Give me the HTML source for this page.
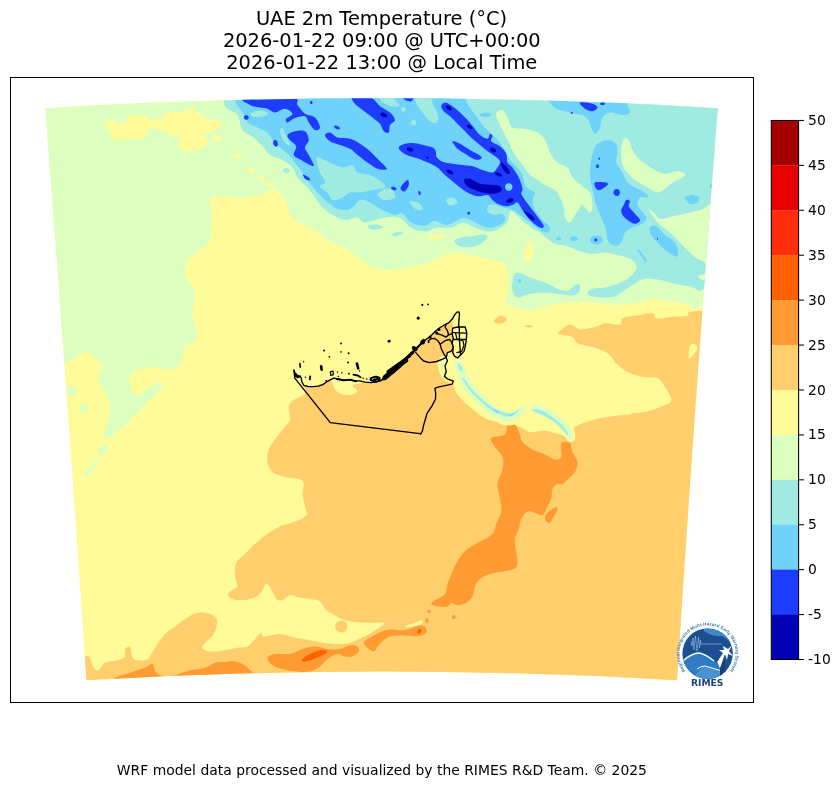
<!DOCTYPE html>
<html lang="en">
<head>
<meta charset="utf-8">
<title>UAE 2m Temperature</title>
<style>
html,body{margin:0;padding:0;background:#fff;}
body{width:840px;height:788px;overflow:hidden;font-family:"DejaVu Sans","Liberation Sans",sans-serif;}
svg{display:block;}
svg text{font-family:"DejaVu Sans","Liberation Sans",sans-serif;fill:#000;}
</style>
</head>
<body>
<svg width="840" height="788" viewBox="0 0 840 788">
<rect width="840" height="788" fill="#fff"/>
<defs>
<clipPath id="mapclip"><path d="M45.3 108.2 Q381.5 88.2 717.8 108.2 Q695.3 394.2 677.0 680.3 Q381.5 662.7 86.5 680.3 Q67.3 394.2 45.3 108.2Z"/></clipPath>
</defs>
<g text-anchor="middle" font-size="19.44" style="filter:grayscale(1)">
<text x="381.5" y="24.7">UAE 2m Temperature (°C)</text>
<text x="381.8" y="47.0">2026-01-22 09:00 @ UTC+00:00</text>
<text x="381.8" y="68.8">2026-01-22 13:00 @ Local Time</text>
</g>
<g clip-path="url(#mapclip)">
<rect x="40" y="90" width="690" height="600" fill="#fffb98"/>
<path fill="#dcffc0" d="M30.0 80.0 C148.3 60.0 625.0 60.0 740.0 80.0 C855.0 100.0 726.2 163.0 720.0 200.0 C713.8 237.0 708.8 284.8 703.0 302.0 C697.2 319.2 691.3 303.5 685.0 303.2 C678.7 303.0 671.2 301.4 665.0 300.8 C658.8 300.1 652.5 299.1 647.5 299.5 C642.5 299.9 641.2 302.4 635.0 303.2 C628.8 304.1 618.3 304.7 610.0 304.5 C601.7 304.3 593.3 302.2 585.0 302.0 C576.7 301.8 566.7 302.6 560.0 303.2 C553.3 303.9 549.6 304.5 545.0 305.8 C540.4 307.0 536.7 310.3 532.5 310.8 C528.3 311.2 523.8 309.1 520.0 308.2 C516.2 307.4 512.5 306.8 510.0 305.8 C507.5 304.7 505.4 303.9 505.0 302.0 C504.6 300.1 506.8 297.0 507.5 294.5 C508.2 292.0 509.0 290.2 509.0 287.0 C509.0 283.8 508.2 278.7 507.5 275.0 C506.8 271.3 507.1 267.5 505.0 265.0 C502.9 262.5 498.8 261.2 495.0 260.0 C491.2 258.8 486.7 258.3 482.5 257.5 C478.3 256.7 474.2 255.8 470.0 255.0 C465.8 254.2 461.7 252.5 457.5 252.5 C453.3 252.5 449.2 253.8 445.0 255.0 C440.8 256.2 436.7 258.3 432.5 260.0 C428.3 261.7 427.9 263.3 420.0 265.0 C412.1 266.7 394.2 270.4 385.0 270.0 C375.8 269.6 371.2 265.8 365.0 262.5 C358.8 259.2 353.8 253.8 347.5 250.0 C341.2 246.2 332.9 243.3 327.5 240.0 C322.1 236.7 320.8 233.8 315.0 230.0 C309.2 226.2 297.5 222.5 292.5 217.5 C287.5 212.5 288.1 204.8 285.0 200.0 C281.9 195.2 277.9 189.6 273.8 188.8 C269.6 187.9 265.2 193.5 260.0 195.0 C254.8 196.5 249.2 197.3 242.5 197.5 C235.8 197.7 225.4 195.8 220.0 196.2 C214.6 196.7 211.3 196.9 210.0 200.0 C208.7 203.1 212.0 208.3 212.0 215.0 C212.0 221.7 212.0 234.2 210.0 240.0 C208.0 245.8 203.8 246.7 200.0 250.0 C196.2 253.3 189.5 255.8 187.0 260.0 C184.5 264.2 184.1 270.5 185.0 275.0 C185.9 279.5 190.8 283.3 192.5 287.0 C194.2 290.7 195.0 292.0 195.0 297.0 C195.0 302.0 192.1 310.3 192.5 317.0 C192.9 323.7 198.8 332.0 197.5 337.0 C196.2 342.0 187.5 343.2 185.0 347.0 C182.5 350.8 184.2 356.0 182.5 359.5 C180.8 363.0 178.3 366.6 175.0 368.2 C171.7 369.9 166.7 369.7 162.5 369.5 C158.3 369.3 153.8 367.0 150.0 367.0 C146.2 367.0 143.3 368.2 140.0 369.5 C136.7 370.8 131.2 370.8 130.0 374.5 C128.8 378.2 130.8 388.7 132.5 392.0 C134.2 395.3 136.7 395.8 140.0 394.5 C143.3 393.2 148.8 386.4 152.5 384.5 C156.2 382.6 162.1 381.6 162.5 383.2 C162.9 384.9 158.8 390.1 155.0 394.5 C151.2 398.9 145.0 404.5 140.0 409.5 C135.0 414.5 130.0 419.9 125.0 424.5 C120.0 429.1 113.5 434.9 110.0 437.0 C106.5 439.1 104.6 438.7 103.8 437.0 C102.9 435.3 104.0 431.2 105.0 427.0 C106.0 422.8 109.6 417.0 110.0 412.0 C110.4 407.0 109.2 401.6 107.5 397.0 C105.8 392.4 101.5 388.5 100.0 384.5 C98.5 380.5 98.1 376.2 98.8 373.2 C99.4 370.3 104.0 369.3 103.8 367.0 C103.5 364.7 100.4 361.9 97.5 359.5 C94.6 357.1 90.0 352.7 86.2 352.5 C82.5 352.3 78.5 356.7 75.0 358.2 C71.5 359.8 71.3 361.4 65.5 362.0 C59.7 362.6 45.9 389.0 40.0 362.0 C34.1 335.0 31.7 247.0 30.0 200.0 C28.3 153.0 -88.3 100.0 30.0 80.0Z"/>
<path fill="#dcffc0" d="M67.5 385.8 C68.5 384.4 73.5 385.5 75.0 387.0 C76.5 388.5 77.3 393.2 76.2 394.5 C75.2 395.8 70.2 396.5 68.8 395.0 C67.3 393.5 66.5 387.1 67.5 385.8Z"/>
<path fill="#dcffc0" d="M80.0 404.5 C81.0 403.5 85.2 404.5 86.2 405.8 C87.3 407.0 87.2 411.0 86.2 412.0 C85.3 413.0 81.5 413.2 80.5 412.0 C79.5 410.8 79.0 405.5 80.0 404.5Z"/>
<path fill="#dcffc0" d="M98.8 448.2 C100.1 446.8 105.0 444.1 106.2 444.5 C107.5 444.9 107.1 449.0 106.2 450.8 C105.4 452.5 102.6 454.6 101.2 455.0 C99.9 455.4 98.4 454.4 98.0 453.2 C97.6 452.1 97.4 449.7 98.8 448.2Z"/>
<path fill="#dcffc0" d="M84.5 473.2 C85.1 471.4 87.9 467.8 90.0 465.8 C92.1 463.7 95.7 461.2 97.0 460.8 C98.3 460.3 99.0 461.6 98.0 463.2 C97.0 464.9 93.2 468.5 91.2 470.8 C89.3 473.0 87.4 476.6 86.2 477.0 C85.1 477.4 83.9 475.1 84.5 473.2Z"/>
<path fill="#fffb98" d="M104.2 126.7 C104.3 124.4 108.8 118.9 110.8 118.3 C112.9 117.8 114.0 122.8 116.7 123.3 C119.3 123.9 124.4 122.9 126.7 121.7 C128.9 120.4 126.9 116.8 130.0 115.8 C133.1 114.9 141.7 115.1 145.0 115.8 C148.3 116.5 147.2 119.6 150.0 120.0 C152.8 120.4 158.9 119.6 161.7 118.3 C164.4 117.1 163.1 113.6 166.7 112.5 C170.3 111.4 179.2 112.4 183.3 111.7 C187.5 111.0 189.4 108.2 191.7 108.3 C193.9 108.5 194.7 111.2 196.7 112.5 C198.6 113.8 200.8 114.3 203.3 115.8 C205.8 117.4 208.9 120.8 211.7 121.7 C214.4 122.5 218.5 120.0 220.0 120.8 C221.5 121.7 222.2 125.1 220.8 126.7 C219.4 128.2 213.5 128.9 211.7 130.0 C209.9 131.1 211.4 132.5 210.0 133.3 C208.6 134.2 203.6 133.6 203.3 135.0 C203.1 136.4 208.6 139.4 208.3 141.7 C208.1 143.9 205.0 146.7 201.7 148.3 C198.3 150.0 191.9 151.7 188.3 151.7 C184.7 151.7 181.7 150.0 180.0 148.3 C178.3 146.7 178.1 143.5 178.3 141.7 C178.6 139.9 182.5 138.5 181.7 137.5 C180.8 136.5 175.8 136.7 173.3 135.8 C170.8 135.0 169.2 133.5 166.7 132.5 C164.2 131.5 161.1 130.7 158.3 130.0 C155.6 129.3 151.9 128.1 150.0 128.3 C148.1 128.6 147.5 130.0 146.7 131.7 C145.8 133.3 147.2 137.1 145.0 138.3 C142.8 139.6 138.1 138.9 133.3 139.2 C128.6 139.4 120.4 140.4 116.7 140.0 C112.9 139.6 111.9 138.1 110.8 136.7 C109.7 135.3 111.1 133.3 110.0 131.7 C108.9 130.0 104.0 128.9 104.2 126.7Z"/>
<path fill="#fffb98" d="M220.0 137.5 C220.0 138.4 219.6 139.5 219.0 140.1 C218.5 140.7 217.5 141.2 216.7 141.2 C215.9 141.2 214.9 140.7 214.3 140.1 C213.8 139.5 213.3 138.4 213.3 137.5 C213.3 136.6 213.8 135.5 214.3 134.9 C214.9 134.3 215.9 133.8 216.7 133.8 C217.5 133.8 218.5 134.3 219.0 134.9 C219.6 135.5 220.0 136.6 220.0 137.5Z"/>
<path fill="#fffb98" d="M219.5 122.5 C219.5 123.3 218.9 124.4 218.2 125.0 C217.4 125.6 216.1 126.0 215.0 126.0 C213.9 126.0 212.6 125.6 211.8 125.0 C211.1 124.4 210.5 123.3 210.5 122.5 C210.5 121.7 211.1 120.6 211.8 120.0 C212.6 119.4 213.9 119.0 215.0 119.0 C216.1 119.0 217.4 119.4 218.2 120.0 C218.9 120.6 219.5 121.7 219.5 122.5Z"/>
<path fill="#fffb98" d="M220.5 137.5 C220.5 138.1 220.1 138.9 219.6 139.3 C219.1 139.7 218.2 140.0 217.5 140.0 C216.8 140.0 215.9 139.7 215.4 139.3 C214.9 138.9 214.5 138.1 214.5 137.5 C214.5 136.9 214.9 136.1 215.4 135.7 C215.9 135.3 216.8 135.0 217.5 135.0 C218.2 135.0 219.1 135.3 219.6 135.7 C220.1 136.1 220.5 136.9 220.5 137.5Z"/>
<path fill="#fffb98" d="M241.4 157.8 C241.1 158.3 240.2 158.6 239.4 158.6 C238.5 158.6 237.2 158.2 236.2 157.7 C235.3 157.1 234.3 156.2 233.9 155.4 C233.4 154.7 233.3 153.8 233.6 153.2 C233.9 152.7 234.8 152.4 235.6 152.4 C236.5 152.4 237.8 152.8 238.8 153.3 C239.7 153.9 240.7 154.8 241.1 155.6 C241.6 156.3 241.7 157.2 241.4 157.8Z"/>
<path fill="#fffb98" d="M255.1 172.8 C254.9 173.3 254.0 173.6 253.1 173.6 C252.3 173.6 250.9 173.2 250.0 172.7 C249.1 172.1 248.1 171.2 247.6 170.4 C247.2 169.7 247.1 168.8 247.4 168.2 C247.6 167.7 248.5 167.4 249.4 167.4 C250.2 167.4 251.6 167.8 252.5 168.3 C253.4 168.9 254.4 169.8 254.9 170.6 C255.3 171.3 255.4 172.2 255.1 172.8Z"/>
<path fill="#fffb98" d="M264.3 179.2 C264.0 179.7 263.3 180.1 262.6 180.1 C261.9 180.1 260.8 179.9 260.1 179.4 C259.4 179.0 258.6 178.3 258.3 177.6 C258.0 177.0 258.0 176.2 258.2 175.8 C258.5 175.3 259.2 174.9 259.9 174.9 C260.6 174.9 261.7 175.1 262.4 175.6 C263.1 176.0 263.9 176.7 264.2 177.4 C264.5 178.0 264.5 178.8 264.3 179.2Z"/>
<path fill="#fffb98" d="M273.0 186.2 C272.7 186.8 272.0 187.2 271.3 187.3 C270.5 187.3 269.5 187.1 268.8 186.7 C268.0 186.3 267.3 185.4 267.0 184.8 C266.7 184.1 266.7 183.3 267.0 182.8 C267.3 182.2 268.0 181.8 268.7 181.7 C269.5 181.7 270.5 181.9 271.2 182.3 C272.0 182.7 272.7 183.6 273.0 184.2 C273.3 184.9 273.3 185.7 273.0 186.2Z"/>
<path fill="#fffb98" d="M533.2 252.0 C532.8 254.5 531.6 257.5 530.6 259.1 C529.6 260.7 528.0 261.8 526.9 261.6 C525.9 261.4 524.8 259.9 524.3 258.0 C523.9 256.2 523.9 252.9 524.3 250.5 C524.7 248.0 525.9 245.0 526.9 243.4 C527.9 241.8 529.5 240.7 530.6 240.9 C531.6 241.1 532.7 242.6 533.2 244.5 C533.6 246.3 533.6 249.6 533.2 252.0Z"/>
<path fill="#fffb98" d="M445.7 236.2 C445.8 236.6 444.6 237.4 443.1 237.8 C441.5 238.3 438.7 238.8 436.4 239.0 C434.2 239.2 431.3 239.2 429.7 239.0 C428.1 238.8 426.8 238.3 426.8 237.8 C426.7 237.4 427.9 236.6 429.4 236.2 C431.0 235.7 433.8 235.2 436.1 235.0 C438.3 234.8 441.2 234.8 442.8 235.0 C444.4 235.2 445.7 235.7 445.7 236.2Z"/>
<path fill="#a0ebe1" d="M223.8 101.0 C223.2 96.2 138.0 83.5 224.0 80.0 C310.0 76.5 657.3 60.0 740.0 80.0 C822.7 100.0 725.7 166.0 720.0 200.0 C714.3 234.0 711.0 269.4 706.0 283.8 C701.0 298.1 695.2 286.2 690.0 286.2 C684.8 286.2 680.0 284.8 675.0 283.8 C670.0 282.7 665.0 280.8 660.0 280.0 C655.0 279.2 649.2 278.1 645.0 278.8 C640.8 279.4 638.3 281.9 635.0 283.8 C631.7 285.6 628.3 287.9 625.0 290.0 C621.7 292.1 619.2 295.0 615.0 296.2 C610.8 297.5 604.2 297.6 600.0 297.5 C595.8 297.4 592.1 296.3 590.0 295.5 C587.9 294.7 587.1 293.6 587.5 292.5 C587.9 291.4 589.6 289.6 592.5 288.8 C595.4 287.9 600.8 288.3 605.0 287.5 C609.2 286.7 613.8 285.2 617.5 283.8 C621.2 282.3 624.6 280.8 627.5 278.8 C630.4 276.7 633.5 273.5 635.0 271.2 C636.5 269.0 637.1 267.1 636.2 265.0 C635.4 262.9 633.1 260.4 630.0 258.8 C626.9 257.1 621.7 256.0 617.5 255.0 C613.3 254.0 609.2 252.7 605.0 252.5 C600.8 252.3 596.7 254.0 592.5 253.8 C588.3 253.5 584.2 252.5 580.0 251.2 C575.8 250.0 571.7 247.5 567.5 246.2 C563.3 245.0 558.3 245.0 555.0 243.8 C551.7 242.5 550.0 240.6 547.5 238.8 C545.0 236.9 542.4 234.1 540.0 232.5 C537.6 230.9 535.7 230.8 533.0 229.0 C530.3 227.2 527.0 224.6 524.0 222.0 C521.0 219.4 517.2 215.3 515.0 213.5 C512.8 211.7 511.6 210.2 510.5 211.0 C509.4 211.8 509.7 215.6 508.6 218.0 C507.5 220.4 506.7 223.5 503.8 225.7 C500.9 227.9 495.4 230.8 491.4 231.4 C487.4 232.0 484.8 230.9 480.0 229.5 C475.2 228.1 467.7 223.2 462.9 222.9 C458.1 222.6 455.5 226.8 451.4 227.6 C447.2 228.4 442.4 227.0 438.0 227.6 C433.6 228.2 429.2 231.3 424.8 231.4 C420.4 231.5 415.5 230.2 411.4 228.0 C407.3 225.8 404.4 219.8 400.0 218.0 C395.6 216.2 390.8 216.8 385.0 217.5 C379.2 218.2 369.6 222.5 365.0 222.5 C360.4 222.5 360.8 217.9 357.5 217.5 C354.2 217.1 349.2 220.4 345.0 220.0 C340.8 219.6 336.2 217.1 332.5 215.0 C328.8 212.9 325.4 210.4 322.5 207.5 C319.6 204.6 317.5 200.8 315.0 197.5 C312.5 194.2 310.4 190.8 307.5 187.5 C304.6 184.2 300.0 180.8 297.5 177.5 C295.0 174.2 295.0 170.4 292.5 167.5 C290.0 164.6 286.2 162.1 282.5 160.0 C278.8 157.9 273.1 157.1 270.0 155.0 C266.9 152.9 266.5 150.4 263.8 147.5 C261.0 144.6 257.3 140.4 253.8 137.5 C250.2 134.6 245.2 133.8 242.5 130.0 C239.8 126.2 240.0 118.5 237.5 115.0 C235.0 111.5 229.8 111.1 227.5 108.8 C225.2 106.4 224.3 105.8 223.8 101.0Z"/>
<path fill="#a0ebe1" d="M367.5 226.2 C367.9 225.4 372.5 224.5 375.0 224.5 C377.5 224.5 381.5 225.5 382.5 226.2 C383.5 227.0 382.9 228.2 381.2 228.8 C379.6 229.3 374.8 229.9 372.5 229.5 C370.2 229.1 367.1 227.1 367.5 226.2Z"/>
<path fill="#a0ebe1" d="M392.0 234.5 C392.4 233.8 395.7 232.4 397.5 232.0 C399.3 231.6 402.4 231.6 403.0 232.0 C403.6 232.4 402.6 233.8 401.2 234.5 C399.9 235.2 396.5 236.5 395.0 236.5 C393.5 236.5 391.6 235.2 392.0 234.5Z"/>
<path fill="#a0ebe1" d="M289.8 170.5 C289.8 171.1 289.3 171.9 288.7 172.3 C288.1 172.7 287.1 173.0 286.2 173.0 C285.4 173.0 284.4 172.7 283.8 172.3 C283.2 171.9 282.8 171.1 282.8 170.5 C282.8 169.9 283.2 169.1 283.8 168.7 C284.4 168.3 285.4 168.0 286.2 168.0 C287.1 168.0 288.1 168.3 288.7 168.7 C289.3 169.1 289.8 169.9 289.8 170.5Z"/>
<path fill="#dcffc0" d="M496.2 113.8 C496.7 111.2 500.6 109.4 502.5 110.0 C504.4 110.6 505.8 114.6 507.5 117.5 C509.2 120.4 509.6 125.6 512.5 127.5 C515.4 129.4 520.8 127.9 525.0 128.8 C529.2 129.6 534.2 130.6 537.5 132.5 C540.8 134.4 542.9 136.7 545.0 140.0 C547.1 143.3 547.9 148.8 550.0 152.5 C552.1 156.2 554.6 160.0 557.5 162.5 C560.4 165.0 565.0 165.0 567.5 167.5 C570.0 170.0 570.0 174.4 572.5 177.5 C575.0 180.6 579.6 183.8 582.5 186.2 C585.4 188.8 588.3 189.4 590.0 192.5 C591.7 195.6 592.5 201.7 592.5 205.0 C592.5 208.3 591.7 212.5 590.0 212.5 C588.3 212.5 584.2 205.8 582.5 205.0 C580.8 204.2 581.2 205.8 580.0 207.5 C578.8 209.2 576.7 212.5 575.0 215.0 C573.3 217.5 571.7 222.1 570.0 222.5 C568.3 222.9 566.0 220.0 565.0 217.5 C564.0 215.0 564.6 210.8 563.8 207.5 C562.9 204.2 561.5 200.4 560.0 197.5 C558.5 194.6 557.5 192.1 555.0 190.0 C552.5 187.9 547.9 186.7 545.0 185.0 C542.1 183.3 540.0 181.7 537.5 180.0 C535.0 178.3 532.5 177.5 530.0 175.0 C527.5 172.5 525.0 168.3 522.5 165.0 C520.0 161.7 517.1 158.3 515.0 155.0 C512.9 151.7 511.7 148.3 510.0 145.0 C508.3 141.7 506.7 138.3 505.0 135.0 C503.3 131.7 501.5 128.5 500.0 125.0 C498.5 121.5 495.8 116.2 496.2 113.8Z"/>
<path fill="#dcffc0" d="M623.8 138.8 C625.0 137.1 627.3 138.1 628.8 140.0 C630.2 141.9 630.6 146.7 632.5 150.0 C634.4 153.3 636.2 156.7 640.0 160.0 C643.8 163.3 650.8 167.7 655.0 170.0 C659.2 172.3 661.2 173.5 665.0 173.8 C668.8 174.0 674.2 171.2 677.5 171.2 C680.8 171.2 684.2 172.7 685.0 173.8 C685.8 174.8 684.6 176.0 682.5 177.5 C680.4 179.0 675.4 180.6 672.5 182.5 C669.6 184.4 667.5 187.1 665.0 188.8 C662.5 190.4 660.4 192.7 657.5 192.5 C654.6 192.3 651.2 189.6 647.5 187.5 C643.8 185.4 638.3 182.5 635.0 180.0 C631.7 177.5 629.6 175.0 627.5 172.5 C625.4 170.0 623.5 168.8 622.5 165.0 C621.5 161.2 621.0 154.4 621.2 150.0 C621.5 145.6 622.5 140.4 623.8 138.8Z"/>
<path fill="#dcffc0" d="M720.0 205.0 C716.7 195.8 705.8 208.5 700.0 210.0 C694.2 211.5 689.6 212.7 685.0 213.8 C680.4 214.8 676.7 215.4 672.5 216.2 C668.3 217.1 663.1 219.4 660.0 218.8 C656.9 218.1 655.6 214.2 653.8 212.5 C651.9 210.8 648.8 207.9 648.8 208.8 C648.8 209.6 651.9 214.8 653.8 217.5 C655.6 220.2 657.3 222.5 660.0 225.0 C662.7 227.5 666.7 229.6 670.0 232.5 C673.3 235.4 676.7 239.2 680.0 242.5 C683.3 245.8 686.7 249.6 690.0 252.5 C693.3 255.4 695.0 257.9 700.0 260.0 C705.0 262.1 716.7 274.2 720.0 265.0 C723.3 255.8 723.3 214.2 720.0 205.0Z"/>
<path fill="#dcffc0" d="M698.0 277.0 C698.0 275.9 704.9 273.8 706.2 274.5 C707.6 275.2 707.6 280.8 706.2 281.2 C704.9 281.7 698.0 278.1 698.0 277.0Z"/>
<path fill="#a0ebe1" d="M513.8 275.0 C515.0 272.2 517.3 272.6 520.0 273.0 C522.7 273.4 525.8 275.9 530.0 277.5 C534.2 279.1 540.4 280.6 545.0 282.5 C549.6 284.4 553.8 287.3 557.5 288.8 C561.2 290.2 564.6 291.9 567.5 291.2 C570.4 290.6 572.9 286.0 575.0 285.0 C577.1 284.0 579.4 284.2 580.0 285.5 C580.6 286.8 580.2 290.8 578.8 292.5 C577.3 294.2 574.8 295.3 571.2 295.5 C567.7 295.7 562.3 294.2 557.5 293.8 C552.7 293.2 547.5 292.4 542.5 292.5 C537.5 292.6 531.7 293.7 527.5 294.5 C523.3 295.3 520.0 298.2 517.5 297.5 C515.0 296.8 513.1 293.8 512.5 290.0 C511.9 286.2 512.5 277.8 513.8 275.0Z"/>
<path fill="#6ed2fa" d="M521.0 280.8 C521.0 281.2 520.8 281.8 520.6 282.2 C520.3 282.5 519.9 282.8 519.5 282.8 C519.1 282.8 518.7 282.5 518.4 282.2 C518.2 281.8 518.0 281.2 518.0 280.8 C518.0 280.3 518.2 279.7 518.4 279.3 C518.7 279.0 519.1 278.8 519.5 278.8 C519.9 278.8 520.3 279.0 520.6 279.3 C520.8 279.7 521.0 280.3 521.0 280.8Z"/>
<path fill="#a0ebe1" d="M454.3 241.0 C454.6 239.4 459.9 237.8 462.9 237.0 C465.9 236.2 468.9 236.6 472.4 236.2 C475.9 235.8 481.3 234.2 483.8 234.3 C486.3 234.4 487.9 235.6 487.6 237.0 C487.3 238.4 484.4 241.3 481.9 242.9 C479.4 244.5 475.9 246.1 472.4 246.7 C468.9 247.3 464.0 247.6 461.0 246.7 C458.0 245.8 454.0 242.6 454.3 241.0Z"/>
<path fill="#6ed2fa" d="M235.0 80.0 C274.2 76.7 431.5 76.9 470.0 80.0 C508.5 83.1 466.2 94.2 466.2 98.8 C466.2 103.3 468.1 104.4 470.0 107.5 C471.9 110.6 475.4 114.6 477.5 117.5 C479.6 120.4 480.4 122.5 482.5 125.0 C484.6 127.5 487.5 130.0 490.0 132.5 C492.5 135.0 495.0 137.1 497.5 140.0 C500.0 142.9 502.9 146.7 505.0 150.0 C507.1 153.3 507.9 157.1 510.0 160.0 C512.1 162.9 515.4 165.0 517.5 167.5 C519.6 170.0 521.2 172.1 522.5 175.0 C523.8 177.9 523.8 182.5 525.0 185.0 C526.2 187.5 528.3 188.8 530.0 190.0 C531.7 191.2 534.6 190.8 535.0 192.5 C535.4 194.2 532.5 197.1 532.5 200.0 C532.5 202.9 533.3 206.7 535.0 210.0 C536.7 213.3 540.0 217.1 542.5 220.0 C545.0 222.9 549.2 225.4 550.0 227.5 C550.8 229.6 549.2 232.1 547.5 232.5 C545.8 232.9 542.9 231.7 540.0 230.0 C537.1 228.3 533.3 225.0 530.0 222.5 C526.7 220.0 522.9 217.1 520.0 215.0 C517.1 212.9 515.4 211.2 512.5 210.0 C509.6 208.8 505.4 208.4 502.5 207.5 C499.6 206.6 497.7 205.1 495.2 204.8 C492.7 204.5 487.6 204.6 487.6 205.7 C487.6 206.8 492.3 209.7 495.2 211.4 C498.1 213.2 503.5 214.3 504.8 216.2 C506.1 218.1 505.1 221.0 502.9 222.9 C500.7 224.8 494.9 227.1 491.4 227.6 C487.9 228.1 485.1 226.8 481.9 225.7 C478.7 224.6 475.6 222.3 472.4 221.0 C469.2 219.7 467.0 217.5 462.9 218.1 C458.8 218.7 452.4 224.3 447.6 224.8 C442.8 225.3 438.1 220.8 434.3 221.0 C430.5 221.2 428.6 225.4 424.8 225.7 C421.0 226.0 415.2 224.9 411.4 222.8 C407.6 220.7 404.7 214.3 402.0 213.0 C399.3 211.7 398.2 215.5 395.0 215.0 C391.8 214.5 386.7 212.1 382.5 210.0 C378.3 207.9 373.8 204.2 370.0 202.5 C366.2 200.8 362.9 199.2 360.0 200.0 C357.1 200.8 355.0 205.8 352.5 207.5 C350.0 209.2 347.9 210.0 345.0 210.0 C342.1 210.0 338.3 209.2 335.0 207.5 C331.7 205.8 327.9 202.5 325.0 200.0 C322.1 197.5 320.0 195.2 317.5 192.5 C315.0 189.8 312.5 187.1 310.0 183.8 C307.5 180.4 305.0 176.0 302.5 172.5 C300.0 169.0 297.5 165.6 295.0 162.5 C292.5 159.4 290.0 156.2 287.5 153.8 C285.0 151.2 282.5 149.8 280.0 147.5 C277.5 145.2 274.6 142.5 272.5 140.0 C270.4 137.5 270.0 134.6 267.5 132.5 C265.0 130.4 260.8 129.2 257.5 127.5 C254.2 125.8 250.0 125.0 247.5 122.5 C245.0 120.0 244.6 116.2 242.5 112.5 C240.4 108.8 236.2 105.4 235.0 100.0 C233.8 94.6 195.8 83.3 235.0 80.0Z"/>
<path fill="#a0ebe1" d="M251.2 113.0 C252.4 112.1 256.1 110.7 258.8 110.5 C261.4 110.3 265.8 111.2 267.0 112.0 C268.2 112.8 267.8 114.7 266.2 115.5 C264.7 116.3 259.9 116.9 257.5 117.0 C255.1 117.1 253.0 116.7 252.0 116.0 C251.0 115.3 250.1 113.9 251.2 113.0Z"/>
<path fill="#a0ebe1" d="M317.5 157.5 C319.6 157.1 325.8 160.8 330.0 162.5 C334.2 164.2 338.8 167.1 342.5 167.5 C346.2 167.9 350.0 164.2 352.5 165.0 C355.0 165.8 354.6 170.8 357.5 172.5 C360.4 174.2 365.8 173.3 370.0 175.0 C374.2 176.7 380.0 180.4 382.5 182.5 C385.0 184.6 386.7 186.2 385.0 187.5 C383.3 188.8 376.7 189.2 372.5 190.0 C368.3 190.8 363.8 192.1 360.0 192.5 C356.2 192.9 352.9 191.7 350.0 192.5 C347.1 193.3 345.4 196.2 342.5 197.5 C339.6 198.8 335.0 200.8 332.5 200.0 C330.0 199.2 329.6 194.8 327.5 192.5 C325.4 190.2 320.4 187.9 320.0 186.2 C319.6 184.6 325.0 184.8 325.0 182.5 C325.0 180.2 321.2 175.4 320.0 172.5 C318.8 169.6 317.9 167.5 317.5 165.0 C317.1 162.5 315.4 157.9 317.5 157.5Z"/>
<path fill="#a0ebe1" d="M377.5 195.0 C377.5 193.1 382.5 189.6 385.0 188.8 C387.5 187.9 390.8 188.5 392.5 190.0 C394.2 191.5 396.2 195.8 395.0 197.5 C393.8 199.2 387.9 200.4 385.0 200.0 C382.1 199.6 377.5 196.9 377.5 195.0Z"/>
<path fill="#a0ebe1" d="M282.5 127.5 C283.3 127.9 283.8 131.0 285.0 133.8 C286.2 136.5 289.6 141.9 290.0 143.8 C290.4 145.6 288.8 145.8 287.5 145.0 C286.2 144.2 283.8 141.0 282.5 138.8 C281.2 136.5 280.0 133.1 280.0 131.2 C280.0 129.4 281.7 127.1 282.5 127.5Z"/>
<path fill="#a0ebe1" d="M410.0 201.2 C410.8 200.4 417.9 202.3 420.0 203.8 C422.1 205.2 423.3 209.2 422.5 210.0 C421.7 210.8 417.1 210.2 415.0 208.8 C412.9 207.3 409.2 202.1 410.0 201.2Z"/>
<path fill="#a0ebe1" d="M446.2 200.0 C446.7 198.7 450.6 197.1 452.5 197.5 C454.4 197.9 457.9 201.2 457.5 202.5 C457.1 203.8 451.9 205.9 450.0 205.5 C448.1 205.1 445.8 201.3 446.2 200.0Z"/>
<path fill="#a0ebe1" d="M487.5 207.5 C488.5 206.5 492.9 205.4 495.0 206.2 C497.1 207.1 500.0 211.0 500.0 212.5 C500.0 214.0 496.9 215.0 495.0 215.0 C493.1 215.0 490.0 213.8 488.8 212.5 C487.5 211.2 486.5 208.5 487.5 207.5Z"/>
<path fill="#a0ebe1" d="M415.8 97.5 C417.8 96.0 427.1 96.2 430.0 97.5 C432.9 98.8 432.1 102.4 433.3 105.0 C434.6 107.6 436.7 110.8 437.5 113.3 C438.3 115.8 438.8 118.3 438.3 120.0 C437.9 121.7 436.7 123.3 435.0 123.3 C433.3 123.3 430.3 121.7 428.3 120.0 C426.4 118.3 425.0 115.6 423.3 113.3 C421.7 111.1 419.6 109.3 418.3 106.7 C417.1 104.0 413.9 99.0 415.8 97.5Z"/>
<path fill="#a0ebe1" d="M380.8 97.5 C382.5 96.8 389.0 96.8 391.7 97.5 C394.3 98.2 395.4 100.3 396.7 101.7 C397.9 103.1 399.7 105.0 399.2 105.8 C398.6 106.7 395.4 106.9 393.3 106.7 C391.2 106.4 388.6 105.0 386.7 104.2 C384.7 103.3 382.6 102.8 381.7 101.7 C380.7 100.6 379.2 98.2 380.8 97.5Z"/>
<path fill="#a0ebe1" d="M405.7 109.2 C405.7 109.7 405.4 110.4 405.0 110.8 C404.6 111.2 403.9 111.5 403.3 111.5 C402.8 111.5 402.1 111.2 401.7 110.8 C401.3 110.4 401.0 109.7 401.0 109.2 C401.0 108.6 401.3 107.9 401.7 107.5 C402.1 107.1 402.8 106.8 403.3 106.8 C403.9 106.8 404.6 107.1 405.0 107.5 C405.4 107.9 405.7 108.6 405.7 109.2Z"/>
<path fill="#a0ebe1" d="M416.3 122.5 C416.3 123.2 416.0 124.1 415.6 124.6 C415.1 125.1 414.3 125.5 413.7 125.5 C413.0 125.5 412.2 125.1 411.8 124.6 C411.3 124.1 411.0 123.2 411.0 122.5 C411.0 121.8 411.3 120.9 411.8 120.4 C412.2 119.9 413.0 119.5 413.7 119.5 C414.3 119.5 415.1 119.9 415.6 120.4 C416.0 120.9 416.3 121.8 416.3 122.5Z"/>
<path fill="#6ed2fa" d="M550.0 95.0 C536.9 96.2 549.0 100.2 550.0 102.5 C551.0 104.8 553.8 107.3 556.2 108.8 C558.8 110.2 561.9 110.4 565.0 111.2 C568.1 112.1 572.1 113.1 575.0 113.8 C577.9 114.4 581.2 114.8 582.5 115.0 C583.8 115.2 581.5 114.2 582.5 115.0 C583.5 115.8 587.3 117.9 588.8 120.0 C590.2 122.1 590.2 125.2 591.2 127.5 C592.3 129.8 593.5 133.8 595.0 133.8 C596.5 133.8 598.8 130.2 600.0 127.5 C601.2 124.8 600.8 120.0 602.5 117.5 C604.2 115.0 606.7 112.9 610.0 112.5 C613.3 112.1 619.2 115.0 622.5 115.0 C625.8 115.0 629.2 114.2 630.0 112.5 C630.8 110.8 627.7 107.9 627.5 105.0 C627.3 102.1 641.7 96.7 628.8 95.0 C615.8 93.3 563.1 93.8 550.0 95.0Z"/>
<path fill="#6ed2fa" d="M597.5 143.8 C599.8 142.1 604.4 140.0 607.5 140.0 C610.6 140.0 614.6 141.7 616.2 143.8 C617.9 145.8 617.5 149.4 617.5 152.5 C617.5 155.6 615.4 159.2 616.2 162.5 C617.1 165.8 620.6 169.2 622.5 172.5 C624.4 175.8 625.0 179.8 627.5 182.5 C630.0 185.2 634.4 186.9 637.5 188.8 C640.6 190.6 644.6 192.3 646.2 193.8 C647.9 195.2 648.5 196.9 647.5 197.5 C646.5 198.1 641.7 196.2 640.0 197.5 C638.3 198.8 636.7 202.1 637.5 205.0 C638.3 207.9 643.5 212.5 645.0 215.0 C646.5 217.5 647.1 218.3 646.2 220.0 C645.4 221.7 642.3 223.8 640.0 225.0 C637.7 226.2 635.0 226.2 632.5 227.5 C630.0 228.8 626.7 230.4 625.0 232.5 C623.3 234.6 623.5 237.9 622.5 240.0 C621.5 242.1 620.4 244.2 618.8 245.0 C617.1 245.8 614.4 245.8 612.5 245.0 C610.6 244.2 608.5 242.5 607.5 240.0 C606.5 237.5 607.3 233.8 606.2 230.0 C605.2 226.2 602.9 221.7 601.2 217.5 C599.6 213.3 597.7 209.6 596.2 205.0 C594.8 200.4 593.5 195.0 592.5 190.0 C591.5 185.0 590.2 180.0 590.0 175.0 C589.8 170.0 590.6 164.2 591.2 160.0 C591.9 155.8 592.7 152.7 593.8 150.0 C594.8 147.3 595.2 145.4 597.5 143.8Z"/>
<path fill="#6ed2fa" d="M650.0 227.5 C650.8 226.0 653.8 225.0 656.2 226.2 C658.8 227.5 662.3 232.7 665.0 235.0 C667.7 237.3 670.4 237.9 672.5 240.0 C674.6 242.1 676.7 244.8 677.5 247.5 C678.3 250.2 678.3 255.0 677.5 256.2 C676.7 257.5 674.6 256.0 672.5 255.0 C670.4 254.0 667.5 252.1 665.0 250.0 C662.5 247.9 659.8 245.0 657.5 242.5 C655.2 240.0 652.5 237.5 651.2 235.0 C650.0 232.5 649.2 229.0 650.0 227.5Z"/>
<path fill="#6ed2fa" d="M685.0 197.5 C685.4 196.0 690.2 195.0 692.5 195.0 C694.8 195.0 697.9 196.2 698.8 197.5 C699.6 198.8 699.0 201.5 697.5 202.5 C696.0 203.5 692.1 204.6 690.0 203.8 C687.9 202.9 684.6 199.0 685.0 197.5Z"/>
<path fill="#6ed2fa" d="M602.8 240.0 C602.8 241.1 601.9 242.4 600.8 243.2 C599.8 243.9 597.8 244.5 596.2 244.5 C594.7 244.5 592.7 243.9 591.7 243.2 C590.6 242.4 589.8 241.1 589.8 240.0 C589.8 238.9 590.6 237.6 591.7 236.8 C592.7 236.1 594.7 235.5 596.2 235.5 C597.8 235.5 599.8 236.1 600.8 236.8 C601.9 237.6 602.8 238.9 602.8 240.0Z"/>
<path fill="#6ed2fa" d="M577.8 238.8 C577.8 239.3 577.2 240.1 576.6 240.5 C575.9 240.9 574.7 241.2 573.8 241.2 C572.8 241.2 571.6 240.9 570.9 240.5 C570.3 240.1 569.8 239.3 569.8 238.8 C569.8 238.2 570.3 237.4 570.9 237.0 C571.6 236.6 572.8 236.2 573.8 236.2 C574.7 236.2 575.9 236.6 576.6 237.0 C577.2 237.4 577.8 238.2 577.8 238.8Z"/>
<path fill="#6ed2fa" d="M561.5 238.8 C561.5 239.1 561.2 239.6 560.7 239.8 C560.2 240.1 559.4 240.2 558.8 240.2 C558.1 240.2 557.3 240.1 556.8 239.8 C556.3 239.6 556.0 239.1 556.0 238.8 C556.0 238.4 556.3 237.9 556.8 237.7 C557.3 237.4 558.1 237.2 558.8 237.2 C559.4 237.2 560.2 237.4 560.7 237.7 C561.2 237.9 561.5 238.4 561.5 238.8Z"/>
<path fill="#6ed2fa" d="M491.2 114.8 C491.2 115.3 490.5 116.0 489.6 116.3 C488.6 116.7 486.9 117.0 485.5 117.0 C484.1 117.0 482.4 116.7 481.4 116.3 C480.5 116.0 479.8 115.3 479.8 114.8 C479.8 114.2 480.5 113.5 481.4 113.2 C482.4 112.8 484.1 112.5 485.5 112.5 C486.9 112.5 488.6 112.8 489.6 113.2 C490.5 113.5 491.2 114.2 491.2 114.8Z"/>
<path fill="#6ed2fa" d="M637.0 250.0 L639.0 249.5 L647.0 260.5 L645.5 262.0Z"/>
<path fill="#6ed2fa" d="M711.8 186.2 C711.8 186.8 711.6 187.6 711.5 188.0 C711.3 188.4 711.0 188.8 710.8 188.8 C710.5 188.8 710.2 188.4 710.0 188.0 C709.9 187.6 709.8 186.8 709.8 186.2 C709.8 185.7 709.9 184.9 710.0 184.5 C710.2 184.1 710.5 183.8 710.8 183.8 C711.0 183.8 711.3 184.1 711.5 184.5 C711.6 184.9 711.8 185.7 711.8 186.2Z"/>
<path fill="#1e3cff" d="M243.8 97.5 C250.8 96.2 283.5 96.2 292.5 97.5 C301.5 98.8 295.4 102.3 297.5 105.0 C299.6 107.7 302.1 111.7 305.0 113.8 C307.9 115.8 312.5 115.2 315.0 117.5 C317.5 119.8 320.0 125.4 320.0 127.5 C320.0 129.6 316.9 130.8 315.0 130.0 C313.1 129.2 310.4 124.8 308.8 122.5 C307.1 120.2 307.3 117.0 305.0 116.2 C302.7 115.5 297.9 117.0 295.0 118.0 C292.1 119.0 289.0 122.4 287.5 122.5 C286.0 122.6 285.4 120.2 286.2 118.8 C287.1 117.3 292.7 115.4 292.5 113.8 C292.3 112.1 287.9 109.0 285.0 108.8 C282.1 108.5 277.9 112.5 275.0 112.5 C272.1 112.5 270.0 109.6 267.5 108.8 C265.0 107.9 262.9 108.1 260.0 107.5 C257.1 106.9 252.7 106.7 250.0 105.0 C247.3 103.3 236.7 98.8 243.8 97.5Z"/>
<path fill="#1e3cff" d="M287.5 135.0 C288.3 133.5 292.1 131.9 295.0 131.2 C297.9 130.6 302.7 129.8 305.0 131.2 C307.3 132.7 308.8 137.3 308.8 140.0 C308.8 142.7 305.0 145.0 305.0 147.5 C305.0 150.0 307.3 152.1 308.8 155.0 C310.2 157.9 313.5 163.3 313.8 165.0 C314.0 166.7 312.1 165.8 310.0 165.0 C307.9 164.2 304.0 161.7 301.2 160.0 C298.5 158.3 294.6 157.3 293.8 155.0 C292.9 152.7 296.9 148.8 296.2 146.2 C295.6 143.8 291.5 141.9 290.0 140.0 C288.5 138.1 286.7 136.5 287.5 135.0Z"/>
<path fill="#1e3cff" d="M277.7 142.7 C277.9 143.5 277.9 144.6 277.7 145.2 C277.5 145.9 276.9 146.5 276.4 146.6 C275.9 146.8 275.1 146.5 274.6 146.1 C274.1 145.6 273.5 144.6 273.3 143.8 C273.1 143.0 273.1 141.9 273.3 141.3 C273.5 140.6 274.1 140.0 274.6 139.9 C275.1 139.7 275.9 140.0 276.4 140.4 C276.9 140.9 277.5 141.9 277.7 142.7Z"/>
<path fill="#1e3cff" d="M248.4 118.8 C248.1 119.2 247.5 119.6 247.0 119.8 C246.4 119.9 245.6 119.7 245.1 119.4 C244.6 119.2 244.1 118.5 243.9 118.0 C243.8 117.5 243.8 116.7 244.1 116.2 C244.4 115.8 245.0 115.4 245.5 115.2 C246.1 115.1 246.9 115.3 247.4 115.6 C247.9 115.8 248.4 116.5 248.6 117.0 C248.7 117.5 248.7 118.3 248.4 118.8Z"/>
<path fill="#1e3cff" d="M325.0 135.0 C325.0 133.5 327.9 132.1 330.0 132.5 C332.1 132.9 334.2 136.5 337.5 137.5 C340.8 138.5 346.2 137.7 350.0 138.8 C353.8 139.8 356.7 141.7 360.0 143.8 C363.3 145.8 367.1 148.8 370.0 151.2 C372.9 153.8 375.0 156.2 377.5 158.8 C380.0 161.2 383.5 164.5 385.0 166.2 C386.5 168.0 387.5 169.1 386.2 169.5 C385.0 169.9 380.6 169.9 377.5 168.8 C374.4 167.6 370.8 164.8 367.5 162.5 C364.2 160.2 360.4 157.3 357.5 155.0 C354.6 152.7 352.9 150.4 350.0 148.8 C347.1 147.1 343.3 146.2 340.0 145.0 C336.7 143.8 332.5 142.9 330.0 141.2 C327.5 139.6 325.0 136.5 325.0 135.0Z"/>
<path fill="#1e3cff" d="M352.5 97.0 C355.0 95.9 365.4 95.5 370.0 97.0 C374.6 98.5 376.7 103.7 380.0 106.2 C383.3 108.8 387.5 110.2 390.0 112.5 C392.5 114.8 395.0 117.9 395.0 120.0 C395.0 122.1 391.0 122.9 390.0 125.0 C389.0 127.1 389.8 131.5 388.8 132.5 C387.7 133.5 385.2 132.7 383.8 131.2 C382.3 129.8 381.9 126.0 380.0 123.8 C378.1 121.5 375.4 119.8 372.5 117.5 C369.6 115.2 365.4 112.3 362.5 110.0 C359.6 107.7 356.7 105.9 355.0 103.8 C353.3 101.6 350.0 98.1 352.5 97.0Z"/>
<path fill="#0000b4" d="M387.0 116.2 C386.9 116.6 386.3 117.1 385.6 117.2 C384.9 117.3 383.8 117.2 383.1 116.9 C382.3 116.6 381.4 116.0 380.9 115.5 C380.5 115.0 380.3 114.2 380.5 113.8 C380.6 113.4 381.2 112.9 381.9 112.8 C382.6 112.7 383.7 112.8 384.4 113.1 C385.2 113.4 386.1 114.0 386.6 114.5 C387.0 115.0 387.2 115.8 387.0 116.2Z"/>
<path fill="#1e3cff" d="M398.8 147.5 C399.2 146.0 402.3 144.5 405.0 143.8 C407.7 143.0 411.7 143.0 415.0 143.2 C418.3 143.5 421.7 144.5 425.0 145.5 C428.3 146.5 433.3 146.7 435.0 149.5 C436.7 152.3 436.7 160.8 435.0 162.5 C433.3 164.2 429.2 161.0 425.0 160.0 C420.8 159.0 413.8 157.5 410.0 156.2 C406.2 155.0 404.4 154.0 402.5 152.5 C400.6 151.0 398.3 149.0 398.8 147.5Z"/>
<path fill="#1e3cff" d="M339.9 128.9 C339.8 129.2 339.2 129.4 338.6 129.4 C338.0 129.4 337.1 129.2 336.4 128.9 C335.7 128.5 334.9 127.9 334.5 127.5 C334.1 127.0 333.9 126.4 334.1 126.1 C334.2 125.8 334.8 125.6 335.4 125.6 C336.0 125.6 336.9 125.8 337.6 126.1 C338.3 126.5 339.1 127.1 339.5 127.5 C339.9 128.0 340.1 128.6 339.9 128.9Z"/>
<path fill="#1e3cff" d="M401.2 186.2 C402.3 184.6 406.2 180.2 407.5 180.0 C408.8 179.8 409.2 183.1 408.8 185.0 C408.3 186.9 406.2 190.4 405.0 191.2 C403.8 192.1 401.9 190.8 401.2 190.0 C400.6 189.2 400.2 187.9 401.2 186.2Z"/>
<path fill="#1e3cff" d="M396.3 189.4 C396.2 189.8 395.7 190.2 395.2 190.3 C394.6 190.4 393.8 190.4 393.2 190.1 C392.5 189.9 391.8 189.4 391.5 189.0 C391.2 188.6 391.0 187.9 391.2 187.6 C391.3 187.2 391.8 186.8 392.3 186.7 C392.9 186.6 393.7 186.6 394.3 186.9 C395.0 187.1 395.7 187.6 396.0 188.0 C396.3 188.4 396.5 189.1 396.3 189.4Z"/>
<path fill="#1e3cff" d="M303.0 174.5 C303.6 174.3 307.7 176.5 308.8 177.5 C309.8 178.5 310.1 180.3 309.5 180.5 C308.9 180.7 306.1 179.8 305.0 178.8 C303.9 177.8 302.4 174.7 303.0 174.5Z"/>
<path fill="#1e3cff" d="M402.5 97.0 C403.6 96.4 411.5 96.3 413.0 97.0 C414.5 97.7 412.4 100.7 411.2 101.2 C410.1 101.8 407.7 101.2 406.2 100.5 C404.8 99.8 401.4 97.6 402.5 97.0Z"/>
<path fill="#1e3cff" d="M312.5 102.5 C312.5 102.9 312.3 103.4 312.1 103.7 C311.9 104.0 311.5 104.2 311.2 104.2 C311.0 104.2 310.6 104.0 310.4 103.7 C310.2 103.4 310.0 102.9 310.0 102.5 C310.0 102.1 310.2 101.6 310.4 101.3 C310.6 101.0 311.0 100.8 311.2 100.8 C311.5 100.8 311.9 101.0 312.1 101.3 C312.3 101.6 312.5 102.1 312.5 102.5Z"/>
<path fill="#1e3cff" d="M441.2 106.2 C441.5 104.8 443.1 102.5 445.0 102.5 C446.9 102.5 450.0 104.6 452.5 106.2 C455.0 107.9 457.5 110.2 460.0 112.5 C462.5 114.8 465.2 117.5 467.5 120.0 C469.8 122.5 471.7 125.0 473.8 127.5 C475.8 130.0 477.7 133.1 480.0 135.0 C482.3 136.9 485.8 139.0 487.5 138.8 C489.2 138.5 489.2 134.2 490.0 133.8 C490.8 133.3 492.3 135.0 492.5 136.2 C492.7 137.5 490.0 139.6 491.2 141.2 C492.5 142.9 497.5 144.2 500.0 146.2 C502.5 148.3 505.0 151.0 506.2 153.8 C507.5 156.5 506.5 160.2 507.5 162.5 C508.5 164.8 510.6 165.0 512.5 167.5 C514.4 170.0 517.1 174.0 518.8 177.5 C520.4 181.0 522.1 186.0 522.5 188.8 C522.9 191.5 520.8 191.9 521.2 193.8 C521.7 195.6 523.1 197.3 525.0 200.0 C526.9 202.7 530.0 206.7 532.5 210.0 C535.0 213.3 538.1 217.3 540.0 220.0 C541.9 222.7 543.8 225.0 543.8 226.2 C543.8 227.5 542.3 228.5 540.0 227.5 C537.7 226.5 532.9 222.9 530.0 220.0 C527.1 217.1 524.6 212.9 522.5 210.0 C520.4 207.1 519.2 203.3 517.5 202.5 C515.8 201.7 514.6 204.4 512.5 205.0 C510.4 205.6 507.5 206.5 505.0 206.2 C502.5 206.0 499.6 204.8 497.5 203.8 C495.4 202.7 494.2 201.5 492.5 200.0 C490.8 198.5 490.0 195.6 487.5 195.0 C485.0 194.4 480.8 196.7 477.5 196.2 C474.2 195.8 470.4 194.0 467.5 192.5 C464.6 191.0 462.5 189.4 460.0 187.5 C457.5 185.6 455.0 183.3 452.5 181.2 C450.0 179.2 447.4 177.2 445.0 175.0 C442.6 172.8 440.5 170.0 438.2 168.2 C436.0 166.5 434.2 165.5 431.8 164.2 C429.2 163.0 426.0 162.0 423.2 160.8 C420.5 159.5 417.6 158.0 415.0 157.0 C412.4 156.0 408.8 156.6 407.5 154.5 C406.2 152.4 406.2 146.1 407.5 144.5 C408.8 142.9 412.1 144.4 415.0 145.0 C417.9 145.6 422.2 147.1 425.0 148.2 C427.8 149.4 429.8 150.2 431.8 151.8 C433.7 153.3 435.0 155.8 436.8 157.5 C438.5 159.2 439.9 160.7 442.5 161.8 C445.1 162.8 449.2 163.2 452.5 163.8 C455.8 164.3 459.2 164.6 462.5 165.0 C465.8 165.4 469.2 165.4 472.5 166.2 C475.8 167.1 479.2 169.0 482.5 170.0 C485.8 171.0 490.0 172.9 492.5 172.5 C495.0 172.1 496.2 169.4 497.5 167.5 C498.8 165.6 500.4 163.1 500.0 161.2 C499.6 159.4 497.1 157.9 495.0 156.2 C492.9 154.6 490.0 153.1 487.5 151.2 C485.0 149.4 482.5 147.1 480.0 145.0 C477.5 142.9 475.0 141.0 472.5 138.8 C470.0 136.5 467.5 133.8 465.0 131.2 C462.5 128.8 460.0 126.2 457.5 123.8 C455.0 121.2 452.3 118.3 450.0 116.2 C447.7 114.2 445.2 112.9 443.8 111.2 C442.3 109.6 441.0 107.7 441.2 106.2Z"/>
<path fill="#6ed2fa" d="M512.5 187.0 C512.5 187.9 512.0 189.0 511.4 189.7 C510.8 190.3 509.6 190.8 508.8 190.8 C507.9 190.8 506.7 190.3 506.1 189.7 C505.5 189.0 505.0 187.9 505.0 187.0 C505.0 186.1 505.5 185.0 506.1 184.3 C506.7 183.7 507.9 183.2 508.8 183.2 C509.6 183.2 510.8 183.7 511.4 184.3 C512.0 185.0 512.5 186.1 512.5 187.0Z"/>
<path fill="#1e3cff" d="M452.5 141.2 C452.9 140.4 457.1 142.3 460.0 143.8 C462.9 145.2 466.7 148.0 470.0 150.0 C473.3 152.0 478.1 154.0 480.0 155.5 C481.9 157.0 482.1 158.1 481.2 158.8 C480.4 159.4 477.7 160.3 475.0 159.5 C472.3 158.7 467.9 155.5 465.0 153.8 C462.1 152.0 459.6 150.8 457.5 148.8 C455.4 146.7 452.1 142.1 452.5 141.2Z"/>
<path fill="#1e3cff" d="M470.2 213.2 C470.2 213.6 470.1 214.1 469.8 214.3 C469.6 214.6 469.1 214.8 468.8 214.8 C468.4 214.8 467.9 214.6 467.7 214.3 C467.4 214.1 467.2 213.6 467.2 213.2 C467.2 212.9 467.4 212.4 467.7 212.2 C467.9 211.9 468.4 211.8 468.8 211.8 C469.1 211.8 469.6 211.9 469.8 212.2 C470.1 212.4 470.2 212.9 470.2 213.2Z"/>
<path fill="#1e3cff" d="M597.2 240.0 C597.2 240.4 597.1 240.8 596.8 241.1 C596.6 241.3 596.1 241.5 595.8 241.5 C595.4 241.5 594.9 241.3 594.7 241.1 C594.4 240.8 594.2 240.4 594.2 240.0 C594.2 239.6 594.4 239.2 594.7 238.9 C594.9 238.7 595.4 238.5 595.8 238.5 C596.1 238.5 596.6 238.7 596.8 238.9 C597.1 239.2 597.2 239.6 597.2 240.0Z"/>
<path fill="#0000b4" d="M463.8 180.0 C464.2 178.8 467.3 178.1 470.0 178.8 C472.7 179.4 476.2 182.7 480.0 183.8 C483.8 184.8 489.2 184.6 492.5 185.0 C495.8 185.4 498.5 185.2 500.0 186.2 C501.5 187.3 502.5 190.0 501.2 191.2 C500.0 192.5 495.6 193.5 492.5 193.8 C489.4 194.0 485.4 193.1 482.5 192.5 C479.6 191.9 477.5 191.0 475.0 190.0 C472.5 189.0 469.4 187.9 467.5 186.2 C465.6 184.6 463.3 181.2 463.8 180.0Z"/>
<path fill="#0000b4" d="M453.2 173.9 C453.0 174.2 452.4 174.5 451.7 174.4 C451.0 174.3 449.9 174.0 449.1 173.5 C448.4 173.1 447.5 172.3 447.1 171.7 C446.7 171.2 446.5 170.5 446.8 170.1 C447.0 169.8 447.6 169.5 448.3 169.6 C449.0 169.7 450.1 170.0 450.9 170.5 C451.6 170.9 452.5 171.7 452.9 172.3 C453.3 172.8 453.5 173.5 453.2 173.9Z"/>
<path fill="#0000b4" d="M495.8 151.6 C495.5 152.1 494.9 152.5 494.2 152.5 C493.5 152.6 492.5 152.3 491.9 151.9 C491.2 151.6 490.5 150.8 490.2 150.2 C489.9 149.6 489.9 148.8 490.2 148.4 C490.5 147.9 491.1 147.5 491.8 147.5 C492.5 147.4 493.5 147.7 494.1 148.1 C494.8 148.4 495.5 149.2 495.8 149.8 C496.1 150.4 496.1 151.2 495.8 151.6Z"/>
<path fill="#0000b4" d="M501.2 162.5 C501.9 162.1 504.8 164.6 506.2 166.2 C507.7 167.9 509.8 171.2 510.0 172.5 C510.2 173.8 508.8 174.4 507.5 173.8 C506.2 173.1 503.5 170.6 502.5 168.8 C501.5 166.9 500.6 162.9 501.2 162.5Z"/>
<path fill="#0000b4" d="M502.1 176.1 C502.0 176.5 501.3 176.7 500.6 176.7 C499.9 176.7 498.8 176.5 498.0 176.1 C497.2 175.7 496.3 175.0 495.8 174.5 C495.4 174.0 495.2 173.3 495.4 172.9 C495.5 172.5 496.2 172.3 496.9 172.3 C497.6 172.3 498.7 172.5 499.5 172.9 C500.3 173.3 501.2 174.0 501.7 174.5 C502.1 175.0 502.3 175.7 502.1 176.1Z"/>
<path fill="#0000b4" d="M513.5 199.2 C513.7 199.7 513.4 200.4 513.0 200.9 C512.5 201.4 511.5 202.1 510.7 202.4 C509.9 202.7 508.7 202.8 508.0 202.7 C507.3 202.6 506.6 202.2 506.5 201.8 C506.3 201.3 506.6 200.6 507.0 200.1 C507.5 199.6 508.5 198.9 509.3 198.6 C510.1 198.3 511.3 198.2 512.0 198.3 C512.7 198.4 513.4 198.8 513.5 199.2Z"/>
<path fill="#0000b4" d="M523.8 211.2 C524.0 210.6 529.4 213.5 531.2 215.0 C533.1 216.5 535.2 219.4 535.0 220.0 C534.8 220.6 531.9 220.2 530.0 218.8 C528.1 217.3 523.5 211.9 523.8 211.2Z"/>
<path fill="#0000b4" d="M472.2 128.9 C471.9 129.2 471.3 129.4 470.7 129.3 C470.1 129.3 469.1 128.9 468.5 128.4 C467.9 128.0 467.2 127.2 466.9 126.7 C466.6 126.1 466.6 125.5 466.8 125.1 C467.1 124.8 467.7 124.6 468.3 124.7 C468.9 124.7 469.9 125.1 470.5 125.6 C471.1 126.0 471.8 126.8 472.1 127.3 C472.4 127.9 472.4 128.5 472.2 128.9Z"/>
<path fill="#0000b4" d="M451.6 110.0 C451.4 110.3 450.7 110.5 450.1 110.4 C449.4 110.3 448.4 109.9 447.7 109.4 C447.1 109.0 446.3 108.2 446.0 107.6 C445.7 107.0 445.6 106.3 445.9 106.0 C446.1 105.7 446.8 105.5 447.4 105.6 C448.1 105.7 449.1 106.1 449.8 106.6 C450.4 107.0 451.2 107.8 451.5 108.4 C451.8 109.0 451.9 109.7 451.6 110.0Z"/>
<path fill="#0000b4" d="M428.8 157.8 C428.8 158.0 428.6 158.3 428.4 158.5 C428.2 158.6 427.8 158.8 427.5 158.8 C427.2 158.8 426.8 158.6 426.6 158.5 C426.4 158.3 426.2 158.0 426.2 157.8 C426.2 157.5 426.4 157.2 426.6 157.0 C426.8 156.9 427.2 156.8 427.5 156.8 C427.8 156.8 428.2 156.9 428.4 157.0 C428.6 157.2 428.8 157.5 428.8 157.8Z"/>
<path fill="#1e3cff" d="M580.0 102.5 C581.2 101.7 589.6 102.9 592.5 103.8 C595.4 104.6 597.5 106.2 597.5 107.5 C597.5 108.8 594.6 111.0 592.5 111.2 C590.4 111.5 587.1 110.2 585.0 108.8 C582.9 107.3 578.8 103.3 580.0 102.5Z"/>
<path fill="#1e3cff" d="M605.0 103.8 C605.0 104.1 604.7 104.6 604.3 104.8 C603.9 105.1 603.1 105.2 602.5 105.2 C601.9 105.2 601.1 105.1 600.7 104.8 C600.3 104.6 600.0 104.1 600.0 103.8 C600.0 103.4 600.3 102.9 600.7 102.7 C601.1 102.4 601.9 102.2 602.5 102.2 C603.1 102.2 603.9 102.4 604.3 102.7 C604.7 102.9 605.0 103.4 605.0 103.8Z"/>
<path fill="#1e3cff" d="M595.0 182.5 C596.7 181.5 604.2 182.1 606.2 182.5 C608.3 182.9 608.5 183.8 607.5 185.0 C606.5 186.2 601.9 189.4 600.0 190.0 C598.1 190.6 597.1 190.0 596.2 188.8 C595.4 187.5 593.3 183.5 595.0 182.5Z"/>
<path fill="#1e3cff" d="M620.0 192.5 C620.0 193.3 619.6 194.4 619.0 195.0 C618.5 195.6 617.5 196.0 616.8 196.0 C616.0 196.0 615.0 195.6 614.5 195.0 C613.9 194.4 613.5 193.3 613.5 192.5 C613.5 191.7 613.9 190.6 614.5 190.0 C615.0 189.4 616.0 189.0 616.8 189.0 C617.5 189.0 618.5 189.4 619.0 190.0 C619.6 190.6 620.0 191.7 620.0 192.5Z"/>
<path fill="#1e3cff" d="M626.2 200.0 C627.3 199.4 629.6 200.2 630.0 201.2 C630.4 202.3 628.1 204.4 628.8 206.2 C629.4 208.1 631.9 210.2 633.8 212.5 C635.6 214.8 639.8 218.1 640.0 220.0 C640.2 221.9 637.1 223.8 635.0 223.8 C632.9 223.8 629.6 221.5 627.5 220.0 C625.4 218.5 623.5 216.7 622.5 215.0 C621.5 213.3 621.0 211.7 621.2 210.0 C621.5 208.3 622.9 206.7 623.8 205.0 C624.6 203.3 625.2 200.6 626.2 200.0Z"/>
<path fill="#1e3cff" d="M599.0 166.2 C599.0 166.7 598.8 167.3 598.6 167.7 C598.3 168.0 597.9 168.2 597.5 168.2 C597.1 168.2 596.7 168.0 596.4 167.7 C596.2 167.3 596.0 166.7 596.0 166.2 C596.0 165.8 596.2 165.2 596.4 164.8 C596.7 164.5 597.1 164.2 597.5 164.2 C597.9 164.2 598.3 164.5 598.6 164.8 C598.8 165.2 599.0 165.8 599.0 166.2Z"/>
<path fill="#1e3cff" d="M600.0 158.8 C600.0 159.0 599.9 159.4 599.8 159.6 C599.7 159.8 599.4 160.0 599.2 160.0 C599.1 160.0 598.8 159.8 598.7 159.6 C598.6 159.4 598.5 159.0 598.5 158.8 C598.5 158.5 598.6 158.1 598.7 157.9 C598.8 157.7 599.1 157.5 599.2 157.5 C599.4 157.5 599.7 157.7 599.8 157.9 C599.9 158.1 600.0 158.5 600.0 158.8Z"/>
<path fill="#1e3cff" d="M658.0 238.8 C658.0 239.0 657.9 239.4 657.9 239.6 C657.8 239.8 657.6 240.0 657.5 240.0 C657.4 240.0 657.2 239.8 657.1 239.6 C657.1 239.4 657.0 239.0 657.0 238.8 C657.0 238.5 657.1 238.1 657.1 237.9 C657.2 237.7 657.4 237.5 657.5 237.5 C657.6 237.5 657.8 237.7 657.9 237.9 C657.9 238.1 658.0 238.5 658.0 238.8Z"/>
<path fill="#1e3cff" d="M572.8 113.0 C572.8 113.2 572.6 113.5 572.5 113.7 C572.3 113.9 572.0 114.0 571.8 114.0 C571.5 114.0 571.2 113.9 571.0 113.7 C570.9 113.5 570.8 113.2 570.8 113.0 C570.8 112.8 570.9 112.5 571.0 112.3 C571.2 112.1 571.5 112.0 571.8 112.0 C572.0 112.0 572.3 112.1 572.5 112.3 C572.6 112.5 572.8 112.8 572.8 113.0Z"/>
<path fill="#1e3cff" d="M420.6 192.7 C420.8 193.2 420.8 194.0 420.7 194.4 C420.6 194.8 420.4 195.2 420.1 195.3 C419.8 195.3 419.4 195.1 419.1 194.8 C418.8 194.5 418.5 193.8 418.4 193.3 C418.2 192.8 418.2 192.0 418.3 191.6 C418.4 191.2 418.6 190.8 418.9 190.7 C419.2 190.7 419.6 190.9 419.9 191.2 C420.2 191.5 420.5 192.2 420.6 192.7Z"/>
<path fill="#0000b4" d="M413.4 150.4 C413.3 150.9 412.7 151.3 412.0 151.5 C411.4 151.7 410.3 151.6 409.5 151.4 C408.7 151.2 407.7 150.7 407.2 150.2 C406.8 149.8 406.5 149.0 406.6 148.6 C406.7 148.1 407.3 147.7 408.0 147.5 C408.6 147.3 409.7 147.4 410.5 147.6 C411.3 147.8 412.3 148.3 412.8 148.8 C413.2 149.2 413.5 150.0 413.4 150.4Z"/>
<path fill="#ffcf6e" d="M303.8 385.8 C304.4 384.8 306.9 386.9 310.0 386.5 C313.1 386.1 319.2 384.2 322.5 383.2 C325.8 382.3 328.3 380.8 330.0 380.8 C331.7 380.8 331.7 381.8 332.5 383.2 C333.3 384.7 333.3 387.6 335.0 389.5 C336.7 391.4 339.6 393.7 342.5 394.5 C345.4 395.3 350.0 395.1 352.5 394.5 C355.0 393.9 357.5 392.2 357.5 390.8 C357.5 389.3 352.1 387.0 352.5 385.8 C352.9 384.5 357.1 383.7 360.0 383.2 C362.9 382.8 366.7 383.5 370.0 383.2 C373.3 383.0 376.7 383.2 380.0 382.0 C383.3 380.8 387.2 378.4 390.0 375.8 C392.8 373.1 394.9 368.8 396.9 366.3 C398.9 363.8 400.4 362.8 402.2 361.0 C404.0 359.2 405.8 357.3 407.6 355.7 C409.4 354.1 411.3 352.5 412.9 351.2 C414.5 349.9 415.9 349.0 417.3 347.7 C418.7 346.4 419.8 344.7 421.2 343.4 C422.6 342.1 424.4 341.0 426.0 339.8 C427.6 338.6 429.2 337.5 430.7 336.2 C432.2 334.9 433.5 333.4 434.9 332.1 C436.3 330.8 437.5 329.6 439.0 328.5 C440.5 327.4 442.2 326.4 443.8 325.5 C445.4 324.6 447.2 323.9 448.6 323.2 C450.0 322.5 451.3 321.0 452.1 321.5 C452.9 322.0 453.5 324.4 453.6 326.4 C453.7 328.4 452.9 330.8 452.8 333.6 C452.7 336.4 453.1 340.3 453.0 343.1 C452.9 345.9 453.0 348.6 452.3 350.2 C451.6 351.8 449.6 351.8 448.6 352.6 C447.6 353.4 447.4 354.4 446.2 355.0 C445.0 355.6 442.8 355.2 441.4 356.2 C440.0 357.2 438.4 358.8 437.9 361.0 C437.4 363.2 437.9 366.7 438.5 369.3 C439.1 371.9 440.1 374.4 441.4 376.4 C442.7 378.4 444.3 379.8 446.2 381.2 C448.1 382.6 450.6 382.3 452.5 384.5 C454.4 386.7 454.6 390.8 457.5 394.5 C460.4 398.2 465.4 403.0 470.0 407.0 C474.6 411.0 479.2 415.5 485.0 418.2 C490.8 421.0 499.2 421.8 505.0 423.2 C510.8 424.7 515.8 425.5 520.0 427.0 C524.2 428.5 525.8 431.4 530.0 432.0 C534.2 432.6 540.0 430.3 545.0 430.8 C550.0 431.2 555.8 433.5 560.0 434.5 C564.2 435.5 567.5 438.2 570.0 437.0 C572.5 435.8 570.8 429.9 575.0 427.0 C579.2 424.1 588.3 421.4 595.0 419.5 C601.7 417.6 609.2 416.6 615.0 415.8 C620.8 414.9 627.1 414.9 630.0 414.5 C632.9 414.1 630.0 413.7 632.5 413.2 C635.0 412.8 640.4 413.0 645.0 412.0 C649.6 411.0 655.6 408.9 660.0 407.0 C664.4 405.1 670.4 404.1 671.2 400.8 C672.1 397.4 667.3 390.8 665.0 387.0 C662.7 383.2 661.2 379.9 657.5 378.2 C653.8 376.6 647.5 378.0 642.5 377.0 C637.5 376.0 631.7 374.1 627.5 372.0 C623.3 369.9 620.8 367.6 617.5 364.5 C614.2 361.4 611.7 356.2 607.5 353.2 C603.3 350.3 597.5 348.7 592.5 347.0 C587.5 345.3 580.8 344.9 577.5 343.2 C574.2 341.6 575.4 338.5 572.5 337.0 C569.6 335.5 562.3 335.3 560.0 334.5 C557.7 333.7 557.1 333.7 558.8 332.0 C560.4 330.3 566.5 324.9 570.0 324.5 C573.5 324.1 575.8 329.1 580.0 329.5 C584.2 329.9 590.8 328.0 595.0 327.0 C599.2 326.0 600.8 323.7 605.0 323.2 C609.2 322.8 617.1 325.3 620.0 324.5 C622.9 323.7 620.0 319.7 622.5 318.2 C625.0 316.8 630.0 316.6 635.0 315.8 C640.0 314.9 649.0 312.8 652.5 313.2 C656.0 313.7 652.9 317.6 656.2 318.2 C659.6 318.9 667.3 317.4 672.5 317.0 C677.7 316.6 684.6 316.6 687.5 315.8 C690.4 314.9 685.4 312.6 690.0 312.0 C694.6 311.4 708.3 309.0 715.0 312.0 C721.7 315.0 729.2 263.7 730.0 330.0 C730.8 396.3 831.7 646.7 720.0 710.0 C608.3 773.3 170.0 718.3 60.0 710.0 C-50.0 701.7 56.7 668.5 60.0 660.0 C63.3 651.5 75.2 659.6 80.0 659.0 C84.8 658.4 86.5 655.0 88.8 656.5 C91.0 658.0 92.1 665.5 93.8 667.8 C95.4 670.0 96.9 671.1 98.8 670.2 C100.6 669.4 101.9 664.4 105.0 662.8 C108.1 661.1 114.2 661.3 117.5 660.2 C120.8 659.2 123.8 658.4 125.0 656.5 C126.2 654.6 124.2 650.7 125.0 649.0 C125.8 647.3 129.0 646.1 130.0 646.5 C131.0 646.9 130.6 649.4 131.2 651.5 C131.9 653.6 131.5 657.5 133.8 659.0 C136.0 660.5 142.3 660.7 145.0 660.2 C147.7 659.8 147.9 659.2 150.0 656.5 C152.1 653.8 155.0 647.8 157.5 644.0 C160.0 640.2 162.1 636.9 165.0 634.0 C167.9 631.1 171.7 629.0 175.0 626.5 C178.3 624.0 181.2 621.3 185.0 619.0 C188.8 616.7 193.3 613.6 197.5 612.8 C201.7 611.9 206.8 612.8 210.0 614.0 C213.2 615.2 216.4 616.9 217.0 620.2 C217.6 623.6 216.2 629.6 213.8 634.0 C211.3 638.4 203.1 643.6 202.5 646.5 C201.9 649.4 206.2 650.9 210.0 651.5 C213.8 652.1 220.4 650.9 225.0 650.2 C229.6 649.6 233.8 648.4 237.5 647.8 C241.2 647.1 244.6 648.0 247.5 646.5 C250.4 645.0 252.7 641.3 255.0 639.0 C257.3 636.7 259.8 633.2 261.2 632.8 C262.7 632.3 260.6 636.3 263.8 636.5 C266.9 636.7 274.8 633.8 280.0 634.0 C285.2 634.2 290.0 636.7 295.0 637.8 C300.0 638.8 305.4 639.4 310.0 640.2 C314.6 641.1 318.3 642.1 322.5 642.8 C326.7 643.4 330.4 644.0 335.0 644.0 C339.6 644.0 344.8 644.1 350.0 642.8 C355.2 641.4 362.0 637.9 366.2 635.8 C370.5 633.6 372.8 631.8 375.5 630.0 C378.2 628.2 381.0 626.3 382.5 625.2 C384.0 624.2 384.9 624.0 384.5 623.5 C384.1 623.0 382.4 622.6 380.0 622.5 C377.6 622.4 373.8 622.8 370.0 622.8 C366.2 622.7 361.7 622.7 357.5 622.2 C353.3 621.8 349.2 621.6 345.0 620.2 C340.8 618.9 335.8 615.9 332.5 614.0 C329.2 612.1 327.1 611.1 325.0 609.0 C322.9 606.9 322.5 603.2 320.0 601.5 C317.5 599.8 313.3 599.6 310.0 599.0 C306.7 598.4 303.3 598.4 300.0 597.8 C296.7 597.1 292.9 594.8 290.0 595.2 C287.1 595.7 284.8 599.6 282.5 600.2 C280.2 600.9 277.9 600.5 276.2 599.0 C274.6 597.5 274.2 594.0 272.5 591.5 C270.8 589.0 268.3 583.6 266.2 584.0 C264.2 584.4 262.7 591.5 260.0 594.0 C257.3 596.5 253.8 598.0 250.0 599.0 C246.2 600.0 241.0 600.7 237.5 600.2 C234.0 599.8 230.0 598.0 228.8 596.5 C227.5 595.0 228.5 593.2 230.0 591.5 C231.5 589.8 236.7 589.0 237.5 586.5 C238.3 584.0 235.2 580.5 235.0 576.5 C234.8 572.5 234.6 566.5 236.2 562.8 C237.9 559.0 241.9 557.1 245.0 554.0 C248.1 550.9 251.2 547.3 255.0 544.0 C258.8 540.7 263.3 536.9 267.5 534.0 C271.7 531.1 275.4 528.6 280.0 526.5 C284.6 524.4 290.6 523.4 295.0 521.5 C299.4 519.6 304.6 517.8 306.2 515.2 C307.9 512.8 305.6 510.0 305.0 506.5 C304.4 503.0 302.7 497.8 302.5 494.0 C302.3 490.2 304.2 486.4 303.8 484.0 C303.3 481.6 303.1 480.7 300.0 479.5 C296.9 478.3 289.6 478.2 285.0 477.0 C280.4 475.8 275.4 474.5 272.5 472.0 C269.6 469.5 268.1 465.8 267.5 462.0 C266.9 458.2 267.5 453.2 268.8 449.5 C270.0 445.8 272.7 442.8 275.0 439.5 C277.3 436.2 280.0 432.8 282.5 429.5 C285.0 426.2 289.0 423.2 290.0 419.5 C291.0 415.8 288.3 410.1 288.8 407.0 C289.2 403.9 290.6 402.4 292.5 400.8 C294.4 399.1 297.7 398.5 300.0 397.0 C302.3 395.5 305.6 393.9 306.2 392.0 C306.9 390.1 303.1 386.7 303.8 385.8Z"/>
<path fill="#ffcf6e" d="M347.5 626.5 C347.5 627.9 346.7 629.7 345.7 630.7 C344.6 631.7 342.7 632.5 341.2 632.5 C339.8 632.5 337.9 631.7 336.8 630.7 C335.8 629.7 335.0 627.9 335.0 626.5 C335.0 625.1 335.8 623.3 336.8 622.3 C337.9 621.3 339.8 620.5 341.2 620.5 C342.7 620.5 344.6 621.3 345.7 622.3 C346.7 623.3 347.5 625.1 347.5 626.5Z"/>
<path fill="#ffcf6e" d="M493.8 320.8 C494.2 319.4 497.9 316.2 500.0 315.8 C502.1 315.3 505.4 317.2 506.2 318.2 C507.1 319.3 506.5 321.1 505.0 322.0 C503.5 322.9 499.4 324.0 497.5 323.8 C495.6 323.5 493.3 322.1 493.8 320.8Z"/>
<path fill="#ffcf6e" d="M532.8 326.2 C532.8 326.5 532.2 326.9 531.6 327.1 C530.9 327.3 529.7 327.5 528.8 327.5 C527.8 327.5 526.6 327.3 525.9 327.1 C525.3 326.9 524.8 326.5 524.8 326.2 C524.8 326.0 525.3 325.6 525.9 325.4 C526.6 325.2 527.8 325.0 528.8 325.0 C529.7 325.0 530.9 325.2 531.6 325.4 C532.2 325.6 532.8 326.0 532.8 326.2Z"/>
<path fill="#fffb98" d="M688.8 357.0 C688.7 354.9 689.0 347.8 690.0 345.8 C691.0 343.7 693.8 343.9 695.0 344.5 C696.2 345.1 697.8 347.2 697.0 349.5 C696.2 351.8 691.9 357.0 690.5 358.2 C689.1 359.5 688.8 359.1 688.8 357.0Z"/>
<path fill="#ff9b32" d="M491.2 438.2 C492.9 436.2 502.3 436.8 505.0 434.5 C507.7 432.2 505.8 426.2 507.5 424.5 C509.2 422.8 512.9 422.8 515.0 424.5 C517.1 426.2 518.8 431.6 520.0 434.5 C521.2 437.4 520.4 439.5 522.5 442.0 C524.6 444.5 528.8 447.4 532.5 449.5 C536.2 451.6 541.2 452.8 545.0 454.5 C548.8 456.2 552.3 459.1 555.0 459.5 C557.7 459.9 560.2 459.7 561.2 457.0 C562.3 454.3 559.8 445.5 561.2 443.2 C562.7 441.0 568.1 441.8 570.0 443.2 C571.9 444.7 571.2 448.9 572.5 452.0 C573.8 455.1 577.1 458.7 577.5 462.0 C577.9 465.3 576.7 469.1 575.0 472.0 C573.3 474.9 569.6 477.5 567.5 479.5 C565.4 481.5 564.2 483.2 562.5 484.0 C560.8 484.8 559.2 483.2 557.5 484.0 C555.8 484.8 553.5 486.5 552.5 489.0 C551.5 491.5 552.1 496.1 551.2 499.0 C550.4 501.9 549.0 503.8 547.5 506.5 C546.0 509.2 544.6 514.2 542.5 515.2 C540.4 516.3 537.5 513.4 535.0 512.8 C532.5 512.1 529.8 510.5 527.5 511.5 C525.2 512.5 522.7 516.1 521.2 519.0 C519.8 521.9 519.8 525.7 518.8 529.0 C517.7 532.3 515.4 535.2 515.0 539.0 C514.6 542.8 515.8 547.3 516.2 551.5 C516.7 555.7 517.9 561.1 517.5 564.0 C517.1 566.9 516.2 567.8 513.8 569.0 C511.2 570.2 506.5 570.7 502.5 571.5 C498.5 572.3 493.8 572.8 490.0 574.0 C486.2 575.2 482.5 576.9 480.0 579.0 C477.5 581.1 476.2 583.6 475.0 586.5 C473.8 589.4 474.0 593.8 472.5 596.5 C471.0 599.2 468.8 601.3 466.2 602.8 C463.8 604.2 460.0 605.2 457.5 605.2 C455.0 605.2 452.9 602.5 451.2 602.8 C449.6 603.0 449.8 605.9 447.5 606.5 C445.2 607.1 440.2 606.9 437.5 606.5 C434.8 606.1 431.7 605.0 431.2 604.0 C430.8 603.0 432.7 601.9 435.0 600.2 C437.3 598.6 442.9 596.7 445.0 594.0 C447.1 591.3 446.2 587.8 447.5 584.0 C448.8 580.2 450.6 575.7 452.5 571.5 C454.4 567.3 456.2 562.8 458.8 559.0 C461.2 555.2 464.0 551.9 467.5 549.0 C471.0 546.1 475.8 544.0 480.0 541.5 C484.2 539.0 489.8 536.9 492.5 534.0 C495.2 531.1 494.8 527.8 496.2 524.0 C497.7 520.2 500.6 515.7 501.2 511.5 C501.9 507.3 500.6 503.6 500.0 499.0 C499.4 494.4 497.1 488.9 497.5 484.0 C497.9 479.1 501.7 474.0 502.5 469.5 C503.3 465.0 503.8 460.8 502.5 457.0 C501.2 453.2 496.9 450.1 495.0 447.0 C493.1 443.9 489.6 440.3 491.2 438.2Z"/>
<path fill="#ff9b32" d="M545.0 516.5 C545.4 514.8 546.9 513.1 548.8 511.5 C550.6 509.9 554.8 507.2 556.2 507.0 C557.7 506.8 557.9 508.7 557.5 510.2 C557.1 511.8 555.0 514.4 553.8 516.5 C552.5 518.6 551.2 521.9 550.0 522.8 C548.8 523.6 547.1 522.5 546.2 521.5 C545.4 520.5 544.6 518.2 545.0 516.5Z"/>
<path fill="#ff9b32" d="M455.8 617.0 C455.8 617.5 455.5 618.1 455.2 618.4 C454.8 618.7 454.2 619.0 453.8 619.0 C453.3 619.0 452.7 618.7 452.3 618.4 C452.0 618.1 451.8 617.5 451.8 617.0 C451.8 616.5 452.0 615.9 452.3 615.6 C452.7 615.3 453.3 615.0 453.8 615.0 C454.2 615.0 454.8 615.3 455.2 615.6 C455.5 615.9 455.8 616.5 455.8 617.0Z"/>
<path fill="#ff9b32" d="M430.8 611.5 C430.8 611.9 430.5 612.3 430.2 612.6 C429.9 612.8 429.4 613.0 429.0 613.0 C428.6 613.0 428.1 612.8 427.8 612.6 C427.5 612.3 427.2 611.9 427.2 611.5 C427.2 611.1 427.5 610.7 427.8 610.4 C428.1 610.2 428.6 610.0 429.0 610.0 C429.4 610.0 429.9 610.2 430.2 610.4 C430.5 610.7 430.8 611.1 430.8 611.5Z"/>
<path fill="#ff9b32" d="M428.5 620.8 C428.5 621.3 428.3 622.1 428.1 622.5 C427.8 622.9 427.4 623.2 427.0 623.2 C426.6 623.2 426.2 622.9 425.9 622.5 C425.7 622.1 425.5 621.3 425.5 620.8 C425.5 620.2 425.7 619.4 425.9 619.0 C426.2 618.6 426.6 618.2 427.0 618.2 C427.4 618.2 427.8 618.6 428.1 619.0 C428.3 619.4 428.5 620.2 428.5 620.8Z"/>
<path fill="#ff9b32" d="M113.8 678.5 C116.5 676.6 124.8 674.5 130.0 672.8 C135.2 671.0 141.2 669.2 145.0 667.8 C148.8 666.3 150.6 663.2 152.5 664.0 C154.4 664.8 154.2 670.7 156.2 672.8 C158.3 674.8 161.9 676.1 165.0 676.5 C168.1 676.9 170.8 676.3 175.0 675.2 C179.2 674.2 185.0 671.5 190.0 670.2 C195.0 669.0 200.8 669.0 205.0 667.8 C209.2 666.5 211.7 663.7 215.0 662.8 C218.3 661.8 222.1 662.3 225.0 662.0 C227.9 661.7 229.6 660.7 232.5 661.0 C235.4 661.3 239.6 662.5 242.5 664.0 C245.4 665.5 247.9 667.3 250.0 670.2 C252.1 673.2 277.7 679.2 255.0 681.5 C232.3 683.8 137.3 684.5 113.8 684.0 C90.2 683.5 111.0 680.4 113.8 678.5Z"/>
<path fill="#ff9b32" d="M267.5 657.8 C267.9 655.9 271.2 654.6 275.0 654.0 C278.8 653.4 285.4 654.8 290.0 654.0 C294.6 653.2 298.3 650.2 302.5 649.0 C306.7 647.8 310.8 646.5 315.0 646.5 C319.2 646.5 323.3 648.6 327.5 649.0 C331.7 649.4 336.2 649.6 340.0 649.0 C343.8 648.4 347.1 645.7 350.0 645.2 C352.9 644.8 356.0 645.5 357.5 646.5 C359.0 647.5 359.6 649.8 358.8 651.5 C357.9 653.2 354.8 655.7 352.5 656.5 C350.2 657.3 347.5 656.9 345.0 656.5 C342.5 656.1 340.4 653.6 337.5 654.0 C334.6 654.4 330.4 656.9 327.5 659.0 C324.6 661.1 322.9 664.4 320.0 666.5 C317.1 668.6 314.2 670.7 310.0 671.5 C305.8 672.3 299.6 671.9 295.0 671.5 C290.4 671.1 286.2 670.0 282.5 669.0 C278.8 668.0 275.0 667.1 272.5 665.2 C270.0 663.4 267.1 659.6 267.5 657.8Z"/>
<path fill="#ff6000" d="M302.5 659.0 C303.5 657.8 307.1 655.5 310.0 654.0 C312.9 652.5 317.1 650.7 320.0 650.2 C322.9 649.8 327.5 650.5 327.5 651.5 C327.5 652.5 322.9 655.0 320.0 656.5 C317.1 658.0 312.7 659.4 310.0 660.2 C307.3 661.1 305.0 661.7 303.8 661.5 C302.5 661.3 301.5 660.2 302.5 659.0Z"/>
<path fill="#ff9b32" d="M363.8 642.9 C363.7 640.3 369.4 638.1 372.4 636.2 C375.4 634.3 378.7 632.5 381.9 631.4 C385.1 630.3 387.9 629.7 391.4 629.5 C394.9 629.4 399.7 630.6 402.9 630.5 C406.0 630.3 407.9 629.4 410.5 628.6 C413.0 627.8 415.7 626.0 418.1 625.7 C420.5 625.4 423.3 625.7 424.8 626.7 C426.2 627.6 427.1 630.0 426.7 631.4 C426.2 632.9 424.0 634.4 421.9 635.2 C419.8 636.0 417.5 636.2 414.3 636.2 C411.1 636.2 406.7 635.2 402.9 635.2 C399.0 635.2 394.6 635.4 391.4 636.2 C388.3 637.0 386.0 638.4 383.8 640.0 C381.6 641.6 379.8 643.8 378.1 645.7 C376.3 647.6 375.7 651.9 373.3 651.4 C371.0 651.0 364.0 645.4 363.8 642.9Z"/>
<path fill="#fffb98" d="M405.7 625.7 C407.0 625.0 411.6 623.7 414.3 622.9 C417.0 622.0 420.6 620.4 421.9 620.6 C423.2 620.7 423.6 622.7 422.3 623.6 C421.0 624.6 416.9 625.7 414.3 626.3 C411.7 626.9 408.1 627.3 406.7 627.2 C405.2 627.1 404.4 626.4 405.7 625.7Z"/>
<path fill="#ff6000" d="M420.9 632.3 C420.6 632.8 420.1 633.3 419.6 633.6 C419.1 633.8 418.5 633.8 418.2 633.6 C417.8 633.4 417.5 632.8 417.5 632.3 C417.5 631.8 417.7 631.1 417.9 630.6 C418.2 630.1 418.8 629.5 419.3 629.3 C419.7 629.1 420.3 629.1 420.7 629.3 C421.0 629.5 421.3 630.0 421.4 630.5 C421.4 631.0 421.2 631.8 420.9 632.3Z"/>
<path fill="#fffb98" d="M451.1 360.4 C449.8 362.7 452.2 367.0 452.9 370.4 C453.7 373.8 454.0 377.1 455.5 380.7 C457.1 384.3 459.4 388.3 462.2 391.8 C465.0 395.4 469.0 398.6 472.3 402.0 C475.6 405.3 478.7 408.7 482.1 411.8 C485.6 414.8 488.4 418.1 493.1 420.4 C497.7 422.7 505.0 425.9 510.0 425.6 C515.0 425.2 520.2 421.3 523.3 418.5 C526.4 415.6 528.6 411.0 528.4 408.6 C528.2 406.1 524.2 403.7 522.0 403.8 C519.9 403.9 517.7 407.9 515.7 409.2 C513.7 410.4 512.6 411.9 510.0 411.6 C507.4 411.2 503.2 409.0 500.2 407.2 C497.3 405.4 495.0 403.3 492.2 400.6 C489.3 398.0 486.0 394.4 482.9 391.4 C479.9 388.3 476.2 385.3 474.0 382.5 C471.7 379.7 470.5 377.3 469.2 374.5 C467.9 371.8 467.6 368.8 466.1 365.8 C464.7 362.8 462.9 357.6 460.4 356.7 C457.8 355.8 452.3 358.1 451.1 360.4Z"/>
<path fill="#dcffc0" d="M454.0 362.8 C453.4 364.4 455.2 366.9 455.9 369.7 C456.6 372.5 456.7 376.2 458.2 379.6 C459.6 383.1 461.9 386.8 464.6 390.3 C467.3 393.7 471.2 396.9 474.5 400.2 C477.7 403.5 480.8 407.0 484.2 410.0 C487.7 412.9 490.6 415.9 494.9 417.8 C499.3 419.6 505.8 421.6 510.3 421.2 C514.7 420.7 519.1 417.4 521.6 415.1 C524.1 412.8 525.2 409.1 525.3 407.4 C525.4 405.7 523.6 404.7 522.2 404.9 C520.7 405.2 518.8 407.5 516.7 408.7 C514.6 409.9 512.7 412.2 509.7 412.2 C506.8 412.2 502.3 410.3 499.2 408.7 C496.0 407.1 493.7 405.0 490.8 402.4 C487.9 399.8 484.6 396.2 481.5 393.1 C478.5 390.1 474.7 386.9 472.4 384.0 C470.0 381.1 468.7 378.5 467.3 375.6 C466.0 372.7 465.6 369.1 464.3 366.5 C463.0 363.9 461.1 360.7 459.3 360.1 C457.6 359.4 454.6 361.2 454.0 362.8Z"/>
<path fill="#a0ebe1" d="M457.9 364.6 C457.9 365.4 458.6 367.5 459.1 368.6 C459.5 369.8 460.3 371.3 460.8 371.7 C461.3 372.2 461.9 372.0 462.1 371.3 C462.3 370.6 462.4 368.8 461.9 367.5 C461.4 366.3 459.9 364.5 459.2 364.0 C458.5 363.5 458.0 363.8 457.9 364.6Z"/>
<path fill="#a0ebe1" d="M462.8 378.9 C463.7 380.8 466.4 386.0 469.1 389.4 C471.7 392.8 475.3 396.1 478.8 399.4 C482.3 402.7 486.9 406.8 490.2 409.2 C493.5 411.6 495.1 412.6 498.4 413.8 C501.7 415.0 506.8 417.0 510.1 416.5 C513.4 416.1 517.0 412.3 518.3 411.3 C519.6 410.2 519.1 409.8 517.7 410.2 C516.3 410.6 512.9 413.7 509.9 413.7 C506.9 413.8 502.5 411.9 499.5 410.8 C496.5 409.7 494.9 409.2 491.7 407.0 C488.5 404.9 483.7 401.0 480.3 397.8 C476.8 394.6 473.7 391.2 470.9 387.9 C468.2 384.7 465.2 379.7 463.8 378.2 C462.5 376.7 462.0 377.0 462.8 378.9Z"/>
<path fill="#6ed2fa" d="M493.6 409.9 C494.0 410.3 495.1 411.5 495.9 411.9 C496.7 412.4 498.0 412.6 498.5 412.6 C498.9 412.6 499.0 412.3 498.7 412.0 C498.4 411.7 497.4 411.2 496.6 410.7 C495.8 410.3 494.5 409.5 494.0 409.4 C493.5 409.2 493.3 409.4 493.6 409.9Z"/>
<path fill="#6ed2fa" d="M508.5 415.6 C509.1 415.7 510.8 415.6 511.7 415.3 C512.6 415.1 513.6 414.4 513.9 414.1 C514.3 413.8 514.1 413.5 513.7 413.5 C513.3 413.5 512.2 413.9 511.4 414.2 C510.5 414.4 508.9 414.8 508.4 415.0 C507.9 415.3 508.0 415.6 508.5 415.6Z"/>
<path fill="#fffb98" d="M527.9 410.0 C529.2 412.3 534.4 414.2 537.8 416.1 C541.1 418.0 545.0 419.5 548.1 421.6 C551.2 423.6 553.8 425.9 556.5 428.3 C559.1 430.7 561.8 433.8 563.9 436.0 C566.0 438.2 567.3 441.0 569.1 441.5 C570.9 442.1 573.9 441.4 574.7 439.4 C575.6 437.5 575.6 433.2 574.2 429.7 C572.8 426.2 569.4 421.7 566.4 418.4 C563.3 415.1 559.6 412.4 555.7 409.9 C551.9 407.3 547.4 404.4 543.2 403.2 C538.9 401.9 532.7 401.2 530.2 402.4 C527.7 403.5 526.6 407.7 527.9 410.0Z"/>
<path fill="#dcffc0" d="M531.0 410.6 C532.0 412.3 535.4 413.4 538.5 415.0 C541.6 416.6 546.2 418.0 549.5 420.1 C552.8 422.1 555.6 424.5 558.3 427.1 C561.0 429.7 563.8 433.3 565.7 435.4 C567.6 437.5 568.2 439.2 569.5 439.7 C570.7 440.2 572.7 439.7 573.2 438.2 C573.7 436.8 573.8 434.0 572.4 431.0 C571.0 428.1 567.6 423.8 564.6 420.7 C561.6 417.6 558.0 415.0 554.3 412.5 C550.7 410.0 546.0 407.1 542.4 405.8 C538.9 404.5 534.7 404.1 532.8 404.8 C530.9 405.6 530.1 408.9 531.0 410.6Z"/>
<path fill="#a0ebe1" d="M533.5 410.9 C534.7 411.9 538.7 413.0 541.6 414.5 C544.5 415.9 548.0 417.6 551.1 419.7 C554.2 421.8 557.8 424.7 560.4 427.2 C563.1 429.7 565.7 433.7 567.0 434.8 C568.2 435.9 568.8 435.6 568.1 434.0 C567.3 432.4 565.0 428.0 562.4 425.2 C559.9 422.5 555.9 419.8 552.7 417.4 C549.5 415.1 546.2 412.6 543.2 411.2 C540.1 409.8 535.7 409.1 534.1 409.1 C532.5 409.0 532.2 410.0 533.5 410.9Z"/>
<path fill="#dcffc0" d="M440.8 361.0 C441.2 360.4 442.4 359.8 442.9 360.4 C443.4 361.0 443.8 363.0 443.8 364.5 C443.9 366.0 443.6 368.2 443.2 369.3 C442.9 370.4 442.2 371.3 441.8 371.1 C441.4 370.9 441.1 369.3 440.8 368.1 C440.6 366.9 440.5 365.1 440.5 363.9 C440.5 362.7 440.4 361.5 440.8 361.0Z"/>
</g>
<g><path d="M293.9 370.2 L294.8 372.8 L295.7 376.4 L298.3 375.5 L301.0 377.3 L301.9 381.7 L303.7 385.3 L308.1 386.5 L313.4 386.7 L318.7 386.1 L323.2 384.4 L326.7 381.7 L330.3 379.9 L333.8 378.2 L338.3 379.0 L343.6 379.9 L348.9 379.9 L354.3 380.8 L359.6 380.8 L364.9 382.1 L370.3 382.6 L375.6 382.1 L380.9 380.8 L384.5 378.2 L388.0 374.6 L391.6 371.0 L396.9 366.6 L402.2 361.3 L407.6 356.0 L412.9 351.5 L417.3 348.0 L421.8 343.5 L425.0 340.9" fill="none" stroke="#000" stroke-width="1.35" stroke-linejoin="round" stroke-linecap="round"/>
<path d="M293.9 370.2 L294.8 378.2 L330.3 422.6 L420.0 433.6" fill="none" stroke="#000" stroke-width="1.35" stroke-linejoin="round" stroke-linecap="round"/>
<path d="M383.6 379.0 L388.0 375.5 L392.5 371.0 L396.9 367.5 L401.3 363.1 L404.9 359.5" fill="none" stroke="#000" stroke-width="2.60" stroke-linejoin="round" stroke-linecap="round"/>
<path d="M389.8 371.9 L394.2 369.3 L398.7 364.8 L402.2 362.2" fill="none" stroke="#000" stroke-width="3.20" stroke-linejoin="round" stroke-linecap="round"/>
<path d="M407.6 356.8 L412.0 352.9 L416.4 348.8" fill="none" stroke="#000" stroke-width="2.20" stroke-linejoin="round" stroke-linecap="round"/>
<path d="M370.3 378.2 L375.6 376.7 L378.3 379.0 L374.7 380.8 L370.3 380.3Z" fill="none" stroke="#000" stroke-width="1.20" stroke-linejoin="round" stroke-linecap="round"/>
<path d="M295.7 373.7 L297.4 377.3 L300.1 376.4" fill="none" stroke="#000" stroke-width="2.00" stroke-linejoin="round" stroke-linecap="round"/>
<path d="M330.3 371.9 L333.0 371.0 L333.3 374.6 L330.8 375.5Z" fill="none" stroke="#000" stroke-width="1.20" stroke-linejoin="round" stroke-linecap="round"/>
<path d="M336.5 379.0 L343.6 380.3 L350.7 379.6 L356.0 381.3" fill="none" stroke="#000" stroke-width="1.80" stroke-linejoin="round" stroke-linecap="round"/>
<path d="M353.4 374.6 L357.8 375.5 L360.5 377.3" fill="none" stroke="#000" stroke-width="1.80" stroke-linejoin="round" stroke-linecap="round"/>
<path d="M356.9 363.6 L358.2 368.4" fill="none" stroke="#000" stroke-width="2.60" stroke-linejoin="round" stroke-linecap="round"/>
<path d="M321.1 366.3 L321.6 369.6" fill="none" stroke="#000" stroke-width="2.60" stroke-linejoin="round" stroke-linecap="round"/>
<path d="M299.9 363.6 L300.3 367.1" fill="none" stroke="#000" stroke-width="1.60" stroke-linejoin="round" stroke-linecap="round"/>
<path d="M310.2 376.4 L309.9 379.4" fill="none" stroke="#000" stroke-width="1.80" stroke-linejoin="round" stroke-linecap="round"/>
<circle cx="341.0" cy="343.5" r="0.90" fill="#000"/>
<circle cx="324.1" cy="350.6" r="1.00" fill="#000"/>
<circle cx="329.4" cy="356.8" r="0.90" fill="#000"/>
<circle cx="341.0" cy="351.9" r="0.80" fill="#000"/>
<circle cx="348.6" cy="353.3" r="1.00" fill="#000"/>
<circle cx="348.1" cy="362.5" r="0.90" fill="#000"/>
<circle cx="303.7" cy="361.8" r="0.70" fill="#000"/>
<circle cx="388.9" cy="341.2" r="1.30" fill="#000"/>
<circle cx="418.2" cy="318.3" r="1.30" fill="#000"/>
<circle cx="422.3" cy="305.0" r="0.90" fill="#000"/>
<circle cx="337.4" cy="371.9" r="0.70" fill="#000"/>
<circle cx="341.8" cy="372.8" r="0.70" fill="#000"/>
<circle cx="348.9" cy="373.7" r="0.90" fill="#000"/>
<circle cx="305.4" cy="377.3" r="0.70" fill="#000"/>
<circle cx="326.2" cy="380.8" r="0.90" fill="#000"/>
<circle cx="338.3" cy="376.4" r="0.70" fill="#000"/>
<circle cx="363.2" cy="378.2" r="0.80" fill="#000"/>
<circle cx="366.7" cy="379.0" r="0.80" fill="#000"/>
<circle cx="359.6" cy="371.0" r="0.70" fill="#000"/>
<circle cx="413.8" cy="348.0" r="2.00" fill="#000"/>
<circle cx="422.7" cy="342.3" r="2.20" fill="#000"/>
<path d="M381.9 380.0 L385.5 376.4 L389.0 372.9 L393.8 369.3 L398.6 364.5 L404.5 359.8 L409.3 355.0 L412.9 351.4 L416.4 347.9 L421.2 343.1 L426.0 339.5 L430.7 336.0 L434.9 331.8 L439.0 328.2 L443.8 325.2 L448.6 322.9 L452.1 319.3 L454.5 315.1 L456.9 312.1 L459.0 311.9 L459.5 314.5 L459.0 319.3 L458.7 324.0 L458.7 327.0" fill="none" stroke="#000" stroke-width="1.35" stroke-linejoin="round" stroke-linecap="round"/>
<path d="M384.9 377.6 L389.0 374.0 L393.8 370.2 L398.6 366.0 L403.3 361.9 L405.7 360.4" fill="none" stroke="#000" stroke-width="5.00" stroke-linejoin="round" stroke-linecap="round"/>
<path d="M387.9 371.7 L393.8 367.5 L399.8 363.3" fill="none" stroke="#000" stroke-width="3.00" stroke-linejoin="round" stroke-linecap="round"/>
<path d="M405.7 359.2 L409.3 355.6 L412.9 352.4" fill="none" stroke="#000" stroke-width="3.00" stroke-linejoin="round" stroke-linecap="round"/>
<path d="M372.4 377.6 L376.0 376.4 L379.5 377.6 L380.1 380.0 L376.5 381.8 L372.4 381.2 L370.6 379.4Z" fill="none" stroke="#000" stroke-width="1.60" stroke-linejoin="round" stroke-linecap="round"/>
<path d="M373.6 379.4 L378.3 379.0" fill="none" stroke="#000" stroke-width="1.60" stroke-linejoin="round" stroke-linecap="round"/>
<circle cx="415.2" cy="349.3" r="2.20" fill="#000"/>
<circle cx="422.4" cy="342.1" r="1.90" fill="#000"/>
<circle cx="423.6" cy="340.1" r="1.30" fill="#000"/>
<circle cx="430.1" cy="336.9" r="1.50" fill="#000"/>
<circle cx="436.7" cy="333.0" r="1.60" fill="#000"/>
<circle cx="439.0" cy="329.4" r="1.50" fill="#000"/>
<circle cx="428.6" cy="342.1" r="1.00" fill="#000"/>
<circle cx="418.2" cy="318.1" r="1.50" fill="#000"/>
<circle cx="389.3" cy="341.1" r="1.40" fill="#000"/>
<circle cx="422.4" cy="304.6" r="0.90" fill="#000"/>
<circle cx="428.1" cy="304.4" r="0.90" fill="#000"/>
<circle cx="409.3" cy="356.2" r="1.60" fill="#000"/>
<path d="M415.8 352.6 L420.0 357.4 L423.6 361.0 L429.5 362.7 L436.7 361.5 L442.6 359.2 L446.2 357.4" fill="none" stroke="#000" stroke-width="1.35" stroke-linejoin="round" stroke-linecap="round"/>
<path d="M446.2 357.4 L443.8 353.8 L441.4 349.0 L440.2 344.3 L437.9 340.7 L434.3 338.3 L430.7 338.9 L428.3 340.7" fill="none" stroke="#000" stroke-width="1.35" stroke-linejoin="round" stroke-linecap="round"/>
<path d="M436.7 333.6 L441.4 334.8 L446.2 337.1 L448.6 334.8 L447.4 330.6 L445.0 327.0 L446.2 324.6" fill="none" stroke="#000" stroke-width="1.35" stroke-linejoin="round" stroke-linecap="round"/>
<path d="M440.2 344.3 L445.0 340.7 L449.8 339.5 L452.1 343.1" fill="none" stroke="#000" stroke-width="1.35" stroke-linejoin="round" stroke-linecap="round"/>
<path d="M448.6 334.8 L452.1 333.6" fill="none" stroke="#000" stroke-width="1.35" stroke-linejoin="round" stroke-linecap="round"/>
<path d="M452.1 343.1 L453.3 347.9 L451.0 351.4 L447.4 352.6 L446.2 357.4 L447.4 361.0 L445.0 365.7 L446.2 371.7 L444.4 376.4 L447.4 378.8 L453.3 381.2 L452.1 384.2 L446.2 385.4 L437.9 387.1 L434.9 388.3 L435.7 393.1 L435.5 399.0 L431.9 406.2 L427.1 413.3 L425.4 419.3 L423.6 425.2 L422.4 431.2 L420.6 434.2" fill="none" stroke="#000" stroke-width="1.35" stroke-linejoin="round" stroke-linecap="round"/>
<path d="M452.7 328.2 L458.1 327.0 L465.2 327.0 L466.7 332.4 L466.4 339.5 L465.2 346.7 L464.0 351.4 L460.5 355.0 L457.5 358.0 L454.5 356.2 L452.7 352.6 L453.3 347.9 L452.1 343.1 L453.3 338.3 L452.1 333.6Z" fill="none" stroke="#000" stroke-width="1.35" stroke-linejoin="round" stroke-linecap="round"/>
<path d="M453.3 332.6 L466.4 333.1" fill="none" stroke="#000" stroke-width="1.35" stroke-linejoin="round" stroke-linecap="round"/>
<path d="M453.6 339.5 L466.2 339.5" fill="none" stroke="#000" stroke-width="1.35" stroke-linejoin="round" stroke-linecap="round"/>
<path d="M459.3 327.4 L459.5 340.7 L460.5 354.8" fill="none" stroke="#000" stroke-width="1.35" stroke-linejoin="round" stroke-linecap="round"/>
<path d="M455.7 333.6 L456.9 338.9 L462.9 340.7 L464.0 345.5 L461.7 351.4 L456.9 352.6" fill="none" stroke="#000" stroke-width="1.20" stroke-linejoin="round" stroke-linecap="round"/></g>
<g style="filter:grayscale(0)">
<defs><clipPath id="lg"><circle cx="707.6" cy="653.6" r="25.2"/></clipPath>
<path id="ring" d="M685.38 670.96 A28.2 28.2 0 1 1 729.82 670.96" fill="none"/></defs>
<circle cx="707.6" cy="653.6" r="25.2" fill="#1c4f90"/>
<g clip-path="url(#lg)">
<path d="M704 631 Q712 637 722 636 Q730 640 735 650 L735 625 L704 625Z" fill="#3f88c9"/>
<path d="M680 662 Q690 652 700 652 Q708 654 716 662 L722 668 L722 690 L680 690Z" fill="#2f7cc4"/>
<path d="M682 662 Q691 653 700 653 Q707 655 714 661" fill="none" stroke="#fff" stroke-width="1.3"/>
<path d="M690 690 Q694 672 704 667 L720 671 L726 690Z" fill="#4a93d3"/>
<path d="M697 669 Q701 666 705 666 L722 671" fill="none" stroke="#fff" stroke-width="1"/>
<path d="M716 661 L724 655 L728 690 L720 690 L720 668Z" fill="#17427c"/>
<path d="M723 646 L728 649 L732 645 L729 651 L733 656 L728 654 L727 660 L725 654 L720 668 L717 662 L723 653 L719 650 L724 650Z" fill="#fff"/>
<path d="M691 641 L692 646 L693 638 L694 650 L695.5 636 L697 651 L698.5 637 L699.5 648 L700.5 640 L701 644 L722 644" fill="none" stroke="#9cc3e8" stroke-width="0.6"/>
</g>
<text font-size="4.5" font-weight="bold" style="fill:#3a76bb;font-family:'Liberation Sans','DejaVu Sans',sans-serif" letter-spacing="0.12"><textPath href="#ring" startOffset="0">Regional Integrated Multi-Hazard Early Warning System</textPath></text>
<text x="707.2" y="685.6" text-anchor="middle" font-size="9.2" font-weight="bold" style="fill:#1c4587;font-family:'DejaVu Sans','Liberation Sans',sans-serif">RIMES</text>
</g>
<rect x="10.5" y="77.5" width="743" height="625" fill="none" stroke="#000" stroke-width="1"/>
<g style="filter:grayscale(0)">
<rect x="771.3" y="120.45" width="27.3" height="45.22" fill="#a40000"/>
<rect x="771.3" y="165.37" width="27.3" height="45.22" fill="#e80000"/>
<rect x="771.3" y="210.29" width="27.3" height="45.22" fill="#ff2d0a"/>
<rect x="771.3" y="255.21" width="27.3" height="45.22" fill="#ff6000"/>
<rect x="771.3" y="300.13" width="27.3" height="45.22" fill="#ff9b32"/>
<rect x="771.3" y="345.05" width="27.3" height="45.22" fill="#ffcf6e"/>
<rect x="771.3" y="389.97" width="27.3" height="45.22" fill="#fffb98"/>
<rect x="771.3" y="434.90" width="27.3" height="45.22" fill="#dcffc0"/>
<rect x="771.3" y="479.82" width="27.3" height="45.22" fill="#a0ebe1"/>
<rect x="771.3" y="524.74" width="27.3" height="45.22" fill="#6ed2fa"/>
<rect x="771.3" y="569.66" width="27.3" height="45.22" fill="#1e3cff"/>
<rect x="771.3" y="614.58" width="27.3" height="45.22" fill="#0000b4"/>
<rect x="771.3" y="120.5" width="27.3" height="539.0" fill="none" stroke="#000" stroke-width="1.05"/>
<line x1="798.6" y1="120.45" x2="803.9" y2="120.45" stroke="#000" stroke-width="1.05"/>
<text x="808.1" y="125.00" font-size="13.89">50</text>
<line x1="798.6" y1="165.37" x2="803.9" y2="165.37" stroke="#000" stroke-width="1.05"/>
<text x="808.1" y="169.92" font-size="13.89">45</text>
<line x1="798.6" y1="210.29" x2="803.9" y2="210.29" stroke="#000" stroke-width="1.05"/>
<text x="808.1" y="214.84" font-size="13.89">40</text>
<line x1="798.6" y1="255.21" x2="803.9" y2="255.21" stroke="#000" stroke-width="1.05"/>
<text x="808.1" y="259.76" font-size="13.89">35</text>
<line x1="798.6" y1="300.13" x2="803.9" y2="300.13" stroke="#000" stroke-width="1.05"/>
<text x="808.1" y="304.68" font-size="13.89">30</text>
<line x1="798.6" y1="345.05" x2="803.9" y2="345.05" stroke="#000" stroke-width="1.05"/>
<text x="808.1" y="349.60" font-size="13.89">25</text>
<line x1="798.6" y1="389.97" x2="803.9" y2="389.97" stroke="#000" stroke-width="1.05"/>
<text x="808.1" y="394.52" font-size="13.89">20</text>
<line x1="798.6" y1="434.90" x2="803.9" y2="434.90" stroke="#000" stroke-width="1.05"/>
<text x="808.1" y="439.45" font-size="13.89">15</text>
<line x1="798.6" y1="479.82" x2="803.9" y2="479.82" stroke="#000" stroke-width="1.05"/>
<text x="808.1" y="484.37" font-size="13.89">10</text>
<line x1="798.6" y1="524.74" x2="803.9" y2="524.74" stroke="#000" stroke-width="1.05"/>
<text x="808.1" y="529.29" font-size="13.89">5</text>
<line x1="798.6" y1="569.66" x2="803.9" y2="569.66" stroke="#000" stroke-width="1.05"/>
<text x="808.1" y="574.21" font-size="13.89">0</text>
<line x1="798.6" y1="614.58" x2="803.9" y2="614.58" stroke="#000" stroke-width="1.05"/>
<text x="808.1" y="619.13" font-size="13.89">-5</text>
<line x1="798.6" y1="659.50" x2="803.9" y2="659.50" stroke="#000" stroke-width="1.05"/>
<text x="808.1" y="664.05" font-size="13.89">-10</text>
</g>
<text x="381.9" y="774.8" text-anchor="middle" font-size="13.91" style="filter:grayscale(1)">WRF model data processed and visualized by the RIMES R&amp;D Team. © 2025</text>
</svg>
</body>
</html>
